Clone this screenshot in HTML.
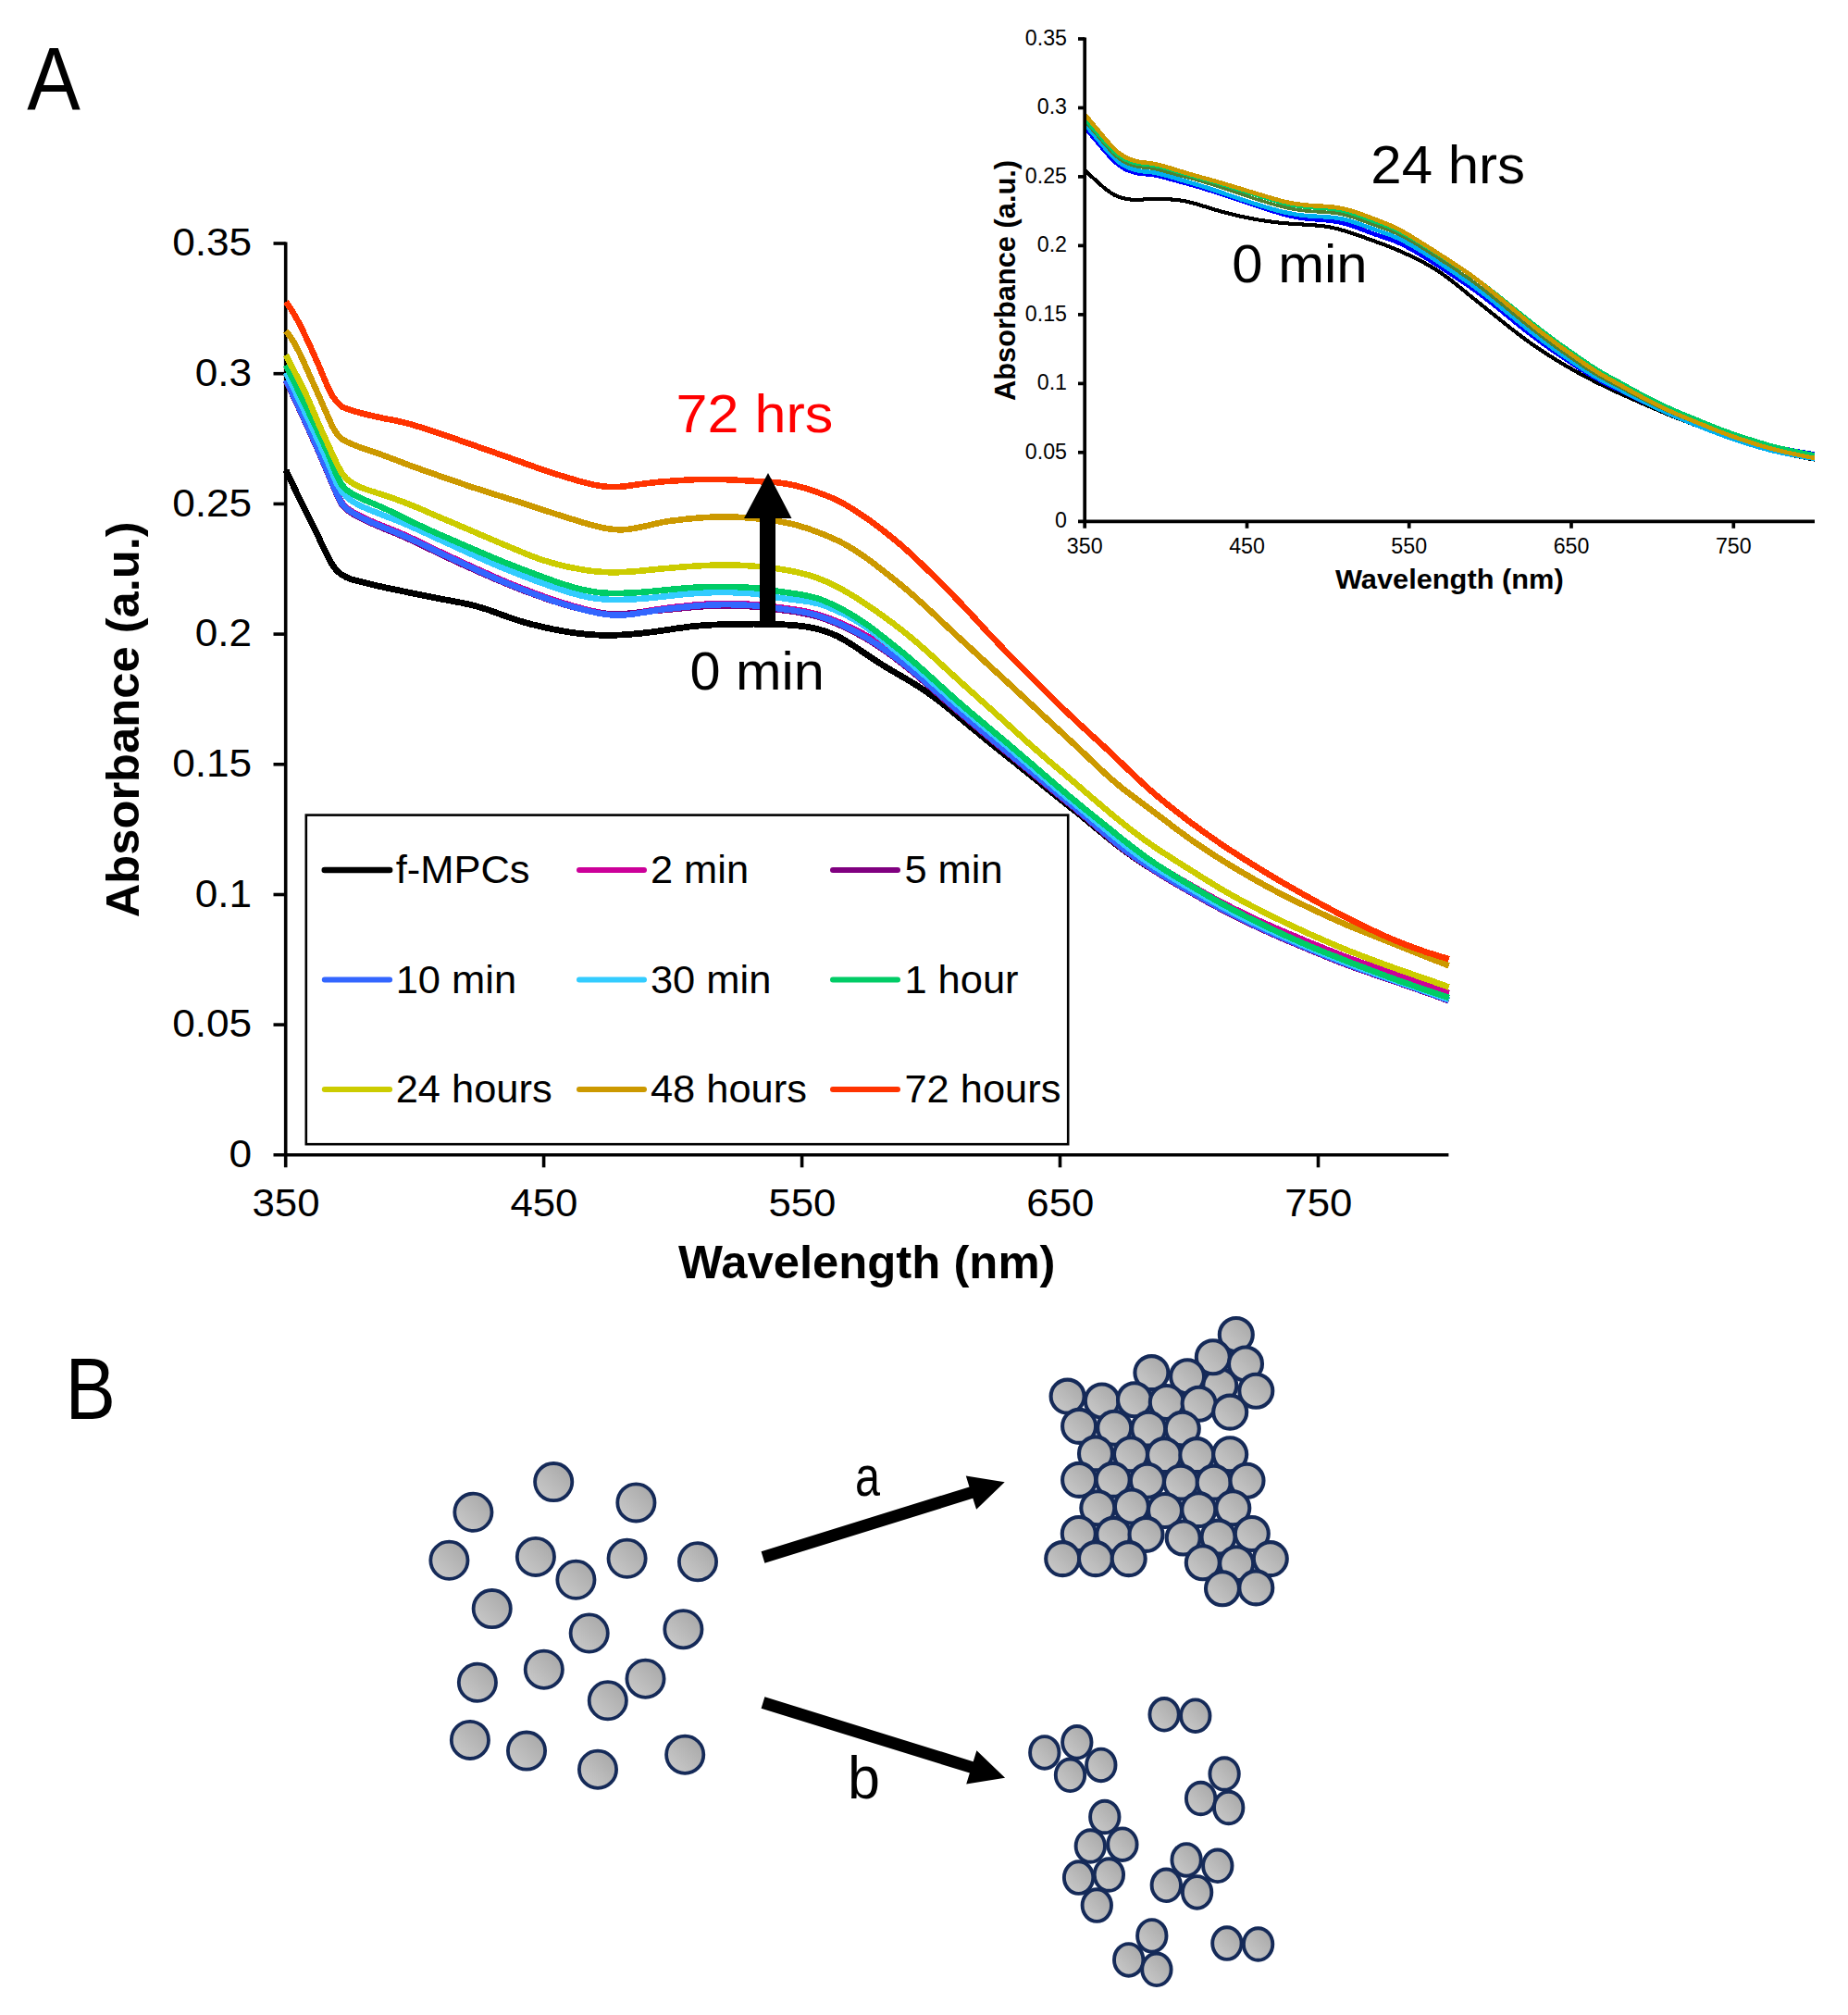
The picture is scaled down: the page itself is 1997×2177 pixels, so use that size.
<!DOCTYPE html>
<html lang="en"><head><meta charset="utf-8"><title>Figure: UV-vis absorbance of f-MPCs over time</title>
<style>html,body{margin:0;padding:0;background:#fff}svg{display:block}text{font-family:"Liberation Sans", sans-serif;}</style>
</head><body>
<svg width="1997" height="2177" viewBox="0 0 1997 2177" role="img" aria-label="UV-vis absorbance spectra and aggregation scheme">
<defs><linearGradient id="g" x1="0.9" y1="0.1" x2="0.1" y2="0.9"><stop offset="0" stop-color="#a8a8a8"/><stop offset="1" stop-color="#c9c9c9"/></linearGradient></defs>
<rect width="1997" height="2177" fill="#ffffff"/>
<text x="29.2" y="118" font-size="96" textLength="57.6" lengthAdjust="spacingAndGlyphs">A</text>
<text x="70.5" y="1533.3" font-size="94.5" textLength="54.5" lengthAdjust="spacingAndGlyphs">B</text>
<g stroke="#000" stroke-width="3.6" fill="none">
<path d="M308.7 261.4 V1261.3"/>
<path d="M295.5 1247.8 H1565.4"/>
<path d="M295.5 263.0 H308.7"/>
<path d="M295.5 403.7 H308.7"/>
<path d="M295.5 544.4 H308.7"/>
<path d="M295.5 685.1 H308.7"/>
<path d="M295.5 825.8 H308.7"/>
<path d="M295.5 966.5 H308.7"/>
<path d="M295.5 1107.1 H308.7"/>
<path d="M587.6 1247.8 V1261.3"/>
<path d="M866.6 1247.8 V1261.3"/>
<path d="M1145.5 1247.8 V1261.3"/>
<path d="M1424.5 1247.8 V1261.3"/>
</g>
<g id="main-curves" fill="none" stroke-width="6.6" stroke-linejoin="round" stroke-linecap="butt" shape-rendering="crispEdges">
<path d="M309.0 508.0 L314.0 518.6 L319.0 529.0 L324.0 539.3 L329.0 549.4 L334.0 559.6 L339.0 569.8 L344.1 580.0 L349.1 590.6 L354.1 600.9 L359.1 610.1 L364.1 616.6 L369.1 620.8 L374.1 623.6 L379.1 625.7 L384.1 627.1 L389.1 628.4 L394.1 629.6 L399.1 630.9 L404.1 632.0 L409.1 633.2 L414.2 634.3 L419.2 635.4 L424.2 636.4 L429.2 637.5 L434.2 638.5 L439.2 639.6 L444.2 640.6 L449.2 641.6 L454.2 642.6 L459.2 643.6 L464.2 644.6 L469.2 645.6 L474.2 646.6 L479.2 647.6 L484.3 648.5 L489.3 649.5 L494.3 650.4 L499.3 651.4 L504.3 652.5 L509.3 653.6 L514.3 654.9 L519.3 656.3 L524.3 657.8 L529.3 659.5 L534.3 661.3 L539.3 663.1 L544.3 664.9 L549.3 666.7 L554.4 668.5 L559.4 670.1 L564.4 671.7 L569.4 673.2 L574.4 674.5 L579.4 675.7 L584.4 676.9 L589.4 678.1 L594.4 679.1 L599.4 680.2 L604.4 681.1 L609.4 682.0 L614.4 682.9 L619.4 683.6 L624.5 684.3 L629.5 684.8 L634.5 685.3 L639.5 685.7 L644.5 686.0 L649.5 686.2 L654.5 686.3 L659.5 686.3 L664.5 686.2 L669.5 686.0 L674.5 685.8 L679.5 685.4 L684.5 685.0 L689.5 684.5 L694.6 684.0 L699.6 683.4 L704.6 682.8 L709.6 682.2 L714.6 681.5 L719.6 680.7 L724.6 680.0 L729.6 679.2 L734.6 678.5 L739.6 677.8 L744.6 677.1 L749.6 676.6 L754.6 676.1 L759.6 675.7 L764.7 675.3 L769.7 675.1 L774.7 674.9 L779.7 674.7 L784.7 674.6 L789.7 674.5 L794.7 674.4 L799.7 674.3 L804.7 674.2 L809.7 674.2 L814.7 674.1 L819.7 674.2 L824.7 674.2 L829.7 674.3 L834.8 674.5 L839.8 674.6 L844.8 674.8 L849.8 675.0 L854.8 675.3 L859.8 675.7 L864.8 676.3 L869.8 676.9 L874.8 677.7 L879.8 678.7 L884.8 680.0 L889.8 681.5 L894.8 683.1 L899.8 685.1 L904.9 687.4 L909.9 690.0 L914.9 692.9 L919.9 696.0 L924.9 699.3 L929.9 702.7 L934.9 706.1 L939.9 709.5 L944.9 712.8 L949.9 716.1 L954.9 719.2 L959.9 722.2 L964.9 725.2 L969.9 728.1 L975.0 731.1 L980.0 734.0 L985.0 737.0 L990.0 740.1 L995.0 743.3 L1000.0 746.7 L1005.0 750.1 L1010.0 753.7 L1015.0 757.5 L1020.0 761.4 L1025.0 765.4 L1030.0 769.5 L1035.0 773.7 L1040.0 777.9 L1045.1 782.1 L1050.1 786.3 L1055.1 790.4 L1060.1 794.5 L1065.1 798.6 L1070.1 802.7 L1075.1 806.7 L1080.1 810.7 L1085.1 814.7 L1090.1 818.7 L1095.1 822.6 L1100.1 826.6 L1105.1 830.7 L1110.1 834.7 L1115.2 838.7 L1120.2 842.8 L1125.2 846.9 L1130.2 850.9 L1135.2 855.0 L1140.2 859.0 L1145.2 863.0 L1150.2 867.0 L1155.2 870.9 L1160.2 874.9 L1165.2 878.9 L1170.2 882.9 L1175.2 887.0 L1180.2 891.2 L1185.3 895.4 L1190.3 899.5 L1195.3 903.7 L1200.3 907.7 L1205.3 911.7 L1210.3 915.5 L1215.3 919.3 L1220.3 922.9 L1225.3 926.3 L1230.3 929.7 L1235.3 933.0 L1240.3 936.3 L1245.3 939.5 L1250.3 942.6 L1255.4 945.7 L1260.4 948.8 L1265.4 951.8 L1270.4 954.7 L1275.4 957.6 L1280.4 960.5 L1285.4 963.3 L1290.4 966.2 L1295.4 969.0 L1300.4 971.8 L1305.4 974.6 L1310.4 977.3 L1315.4 980.0 L1320.4 982.7 L1325.5 985.3 L1330.5 987.9 L1335.5 990.4 L1340.5 992.9 L1345.5 995.3 L1350.5 997.7 L1355.5 1000.1 L1360.5 1002.4 L1365.5 1004.7 L1370.5 1007.0 L1375.5 1009.2 L1380.5 1011.4 L1385.5 1013.6 L1390.5 1015.7 L1395.6 1017.8 L1400.6 1019.9 L1405.6 1022.0 L1410.6 1024.1 L1415.6 1026.1 L1420.6 1028.2 L1425.6 1030.3 L1430.6 1032.3 L1435.6 1034.4 L1440.6 1036.4 L1445.6 1038.4 L1450.6 1040.3 L1455.6 1042.2 L1460.6 1044.1 L1465.7 1046.0 L1470.7 1047.7 L1475.7 1049.5 L1480.7 1051.3 L1485.7 1053.0 L1490.7 1054.7 L1495.7 1056.4 L1500.7 1058.1 L1505.7 1059.8 L1510.7 1061.6 L1515.7 1063.3 L1520.7 1065.0 L1525.7 1066.8 L1530.7 1068.5 L1535.8 1070.3 L1540.8 1072.0 L1545.8 1073.8 L1550.8 1075.6 L1555.8 1077.4 L1560.8 1079.3 L1565.8 1081.1" stroke="#000000" stroke-width="6.8"/>
<path d="M309.0 410.8 L314.0 421.1 L319.0 431.6 L324.0 442.2 L329.0 452.9 L334.0 463.9 L339.0 474.9 L344.1 486.1 L349.1 497.6 L354.1 509.4 L359.1 521.3 L364.1 532.9 L369.1 542.6 L374.1 548.4 L379.1 551.9 L384.1 554.8 L389.1 557.4 L394.1 559.9 L399.1 562.1 L404.1 564.3 L409.1 566.4 L414.2 568.5 L419.2 570.5 L424.2 572.5 L429.2 574.5 L434.2 576.6 L439.2 578.9 L444.2 581.1 L449.2 583.4 L454.2 585.8 L459.2 588.3 L464.2 590.7 L469.2 593.2 L474.2 595.6 L479.2 597.9 L484.3 600.3 L489.3 602.6 L494.3 604.9 L499.3 607.2 L504.3 609.6 L509.3 611.9 L514.3 614.2 L519.3 616.4 L524.3 618.7 L529.3 620.9 L534.3 623.2 L539.3 625.3 L544.3 627.5 L549.3 629.6 L554.4 631.7 L559.4 633.7 L564.4 635.7 L569.4 637.6 L574.4 639.6 L579.4 641.4 L584.4 643.2 L589.4 645.0 L594.4 646.8 L599.4 648.5 L604.4 650.1 L609.4 651.7 L614.4 653.2 L619.4 654.7 L624.5 656.1 L629.5 657.4 L634.5 658.7 L639.5 660.0 L644.5 661.1 L649.5 662.0 L654.5 662.8 L659.5 663.4 L664.5 663.7 L669.5 663.8 L674.5 663.6 L679.5 663.1 L684.5 662.5 L689.5 661.7 L694.6 660.9 L699.6 660.1 L704.6 659.2 L709.6 658.5 L714.6 657.7 L719.6 657.1 L724.6 656.4 L729.6 655.8 L734.6 655.3 L739.6 654.7 L744.6 654.2 L749.6 653.7 L754.6 653.3 L759.6 652.9 L764.7 652.6 L769.7 652.3 L774.7 652.2 L779.7 652.0 L784.7 652.0 L789.7 652.0 L794.7 652.1 L799.7 652.3 L804.7 652.5 L809.7 652.8 L814.7 653.2 L819.7 653.6 L824.7 654.2 L829.7 654.7 L834.8 655.3 L839.8 656.0 L844.8 656.6 L849.8 657.3 L854.8 658.0 L859.8 658.7 L864.8 659.5 L869.8 660.5 L874.8 661.6 L879.8 662.8 L884.8 664.2 L889.8 665.8 L894.8 667.6 L899.8 669.5 L904.9 671.5 L909.9 673.7 L914.9 676.0 L919.9 678.3 L924.9 680.7 L929.9 683.3 L934.9 686.0 L939.9 688.9 L944.9 691.9 L949.9 695.0 L954.9 698.3 L959.9 701.7 L964.9 705.2 L969.9 708.8 L975.0 712.6 L980.0 716.5 L985.0 720.4 L990.0 724.5 L995.0 728.6 L1000.0 732.8 L1005.0 737.1 L1010.0 741.4 L1015.0 745.7 L1020.0 750.0 L1025.0 754.3 L1030.0 758.5 L1035.0 762.7 L1040.0 766.9 L1045.1 771.1 L1050.1 775.3 L1055.1 779.4 L1060.1 783.6 L1065.1 787.7 L1070.1 791.8 L1075.1 795.9 L1080.1 799.9 L1085.1 804.0 L1090.1 808.0 L1095.1 812.0 L1100.1 816.0 L1105.1 820.1 L1110.1 824.1 L1115.2 828.2 L1120.2 832.3 L1125.2 836.4 L1130.2 840.5 L1135.2 844.6 L1140.2 848.6 L1145.2 852.7 L1150.2 856.7 L1155.2 860.7 L1160.2 864.7 L1165.2 868.8 L1170.2 872.9 L1175.2 877.2 L1180.2 881.4 L1185.3 885.7 L1190.3 890.0 L1195.3 894.3 L1200.3 898.4 L1205.3 902.5 L1210.3 906.5 L1215.3 910.4 L1220.3 914.1 L1225.3 917.7 L1230.3 921.2 L1235.3 924.6 L1240.3 928.0 L1245.3 931.2 L1250.3 934.5 L1255.4 937.6 L1260.4 940.7 L1265.4 943.7 L1270.4 946.7 L1275.4 949.7 L1280.4 952.6 L1285.4 955.5 L1290.4 958.3 L1295.4 961.2 L1300.4 964.0 L1305.4 966.8 L1310.4 969.6 L1315.4 972.3 L1320.4 975.0 L1325.5 977.6 L1330.5 980.2 L1335.5 982.7 L1340.5 985.2 L1345.5 987.6 L1350.5 990.0 L1355.5 992.4 L1360.5 994.7 L1365.5 997.0 L1370.5 999.2 L1375.5 1001.4 L1380.5 1003.6 L1385.5 1005.8 L1390.5 1007.9 L1395.6 1010.0 L1400.6 1012.1 L1405.6 1014.2 L1410.6 1016.3 L1415.6 1018.3 L1420.6 1020.4 L1425.6 1022.4 L1430.6 1024.5 L1435.6 1026.5 L1440.6 1028.5 L1445.6 1030.5 L1450.6 1032.4 L1455.6 1034.3 L1460.6 1036.2 L1465.7 1038.0 L1470.7 1039.8 L1475.7 1041.5 L1480.7 1043.3 L1485.7 1045.0 L1490.7 1046.7 L1495.7 1048.4 L1500.7 1050.1 L1505.7 1051.8 L1510.7 1053.5 L1515.7 1055.3 L1520.7 1057.0 L1525.7 1058.7 L1530.7 1060.5 L1535.8 1062.2 L1540.8 1064.0 L1545.8 1065.8 L1550.8 1067.6 L1555.8 1069.4 L1560.8 1071.2 L1565.8 1073.0" stroke="#CC0099"/>
<path d="M309.0 411.5 L314.0 421.9 L319.0 432.5 L324.0 443.2 L329.0 454.1 L334.0 465.1 L339.0 476.3 L344.1 487.6 L349.1 499.2 L354.1 511.1 L359.1 523.1 L364.1 534.8 L369.1 544.6 L374.1 550.4 L379.1 553.9 L384.1 556.9 L389.1 559.6 L394.1 562.1 L399.1 564.3 L404.1 566.6 L409.1 568.7 L414.2 570.8 L419.2 572.9 L424.2 574.9 L429.2 576.9 L434.2 579.1 L439.2 581.3 L444.2 583.6 L449.2 585.9 L454.2 588.3 L459.2 590.7 L464.2 593.2 L469.2 595.6 L474.2 598.0 L479.2 600.4 L484.3 602.8 L489.3 605.1 L494.3 607.4 L499.3 609.7 L504.3 611.9 L509.3 614.2 L514.3 616.5 L519.3 618.7 L524.3 620.9 L529.3 623.1 L534.3 625.3 L539.3 627.4 L544.3 629.5 L549.3 631.6 L554.4 633.6 L559.4 635.6 L564.4 637.6 L569.4 639.5 L574.4 641.3 L579.4 643.2 L584.4 644.9 L589.4 646.7 L594.4 648.4 L599.4 650.0 L604.4 651.6 L609.4 653.1 L614.4 654.6 L619.4 656.0 L624.5 657.3 L629.5 658.5 L634.5 659.7 L639.5 660.7 L644.5 661.6 L649.5 662.3 L654.5 662.8 L659.5 663.2 L664.5 663.4 L669.5 663.3 L674.5 663.1 L679.5 662.7 L684.5 662.3 L689.5 661.7 L694.6 661.2 L699.6 660.7 L704.6 660.2 L709.6 659.8 L714.6 659.3 L719.6 658.9 L724.6 658.4 L729.6 658.0 L734.6 657.5 L739.6 656.9 L744.6 656.4 L749.6 656.0 L754.6 655.5 L759.6 655.2 L764.7 654.9 L769.7 654.6 L774.7 654.5 L779.7 654.4 L784.7 654.4 L789.7 654.4 L794.7 654.6 L799.7 654.7 L804.7 654.9 L809.7 655.2 L814.7 655.6 L819.7 656.1 L824.7 656.6 L829.7 657.2 L834.8 657.8 L839.8 658.4 L844.8 659.1 L849.8 659.7 L854.8 660.4 L859.8 661.2 L864.8 662.0 L869.8 663.0 L874.8 664.0 L879.8 665.3 L884.8 666.7 L889.8 668.3 L894.8 670.1 L899.8 672.1 L904.9 674.2 L909.9 676.5 L914.9 678.8 L919.9 681.3 L924.9 683.9 L929.9 686.6 L934.9 689.4 L939.9 692.4 L944.9 695.6 L949.9 698.9 L954.9 702.2 L959.9 705.7 L964.9 709.4 L969.9 713.2 L975.0 717.1 L980.0 721.1 L985.0 725.2 L990.0 729.3 L995.0 733.6 L1000.0 737.9 L1005.0 742.3 L1010.0 746.7 L1015.0 751.1 L1020.0 755.6 L1025.0 759.9 L1030.0 764.3 L1035.0 768.5 L1040.0 772.8 L1045.1 777.1 L1050.1 781.4 L1055.1 785.6 L1060.1 789.9 L1065.1 794.1 L1070.1 798.3 L1075.1 802.4 L1080.1 806.6 L1085.1 810.7 L1090.1 814.9 L1095.1 819.0 L1100.1 823.1 L1105.1 827.2 L1110.1 831.3 L1115.2 835.5 L1120.2 839.7 L1125.2 843.8 L1130.2 848.0 L1135.2 852.1 L1140.2 856.3 L1145.2 860.4 L1150.2 864.5 L1155.2 868.5 L1160.2 872.6 L1165.2 876.8 L1170.2 881.0 L1175.2 885.3 L1180.2 889.7 L1185.3 894.0 L1190.3 898.4 L1195.3 902.7 L1200.3 906.9 L1205.3 911.0 L1210.3 915.0 L1215.3 918.8 L1220.3 922.5 L1225.3 926.1 L1230.3 929.5 L1235.3 932.9 L1240.3 936.2 L1245.3 939.5 L1250.3 942.6 L1255.4 945.8 L1260.4 948.8 L1265.4 951.8 L1270.4 954.8 L1275.4 957.7 L1280.4 960.6 L1285.4 963.5 L1290.4 966.3 L1295.4 969.1 L1300.4 972.0 L1305.4 974.8 L1310.4 977.5 L1315.4 980.2 L1320.4 982.9 L1325.5 985.5 L1330.5 988.1 L1335.5 990.7 L1340.5 993.1 L1345.5 995.6 L1350.5 998.0 L1355.5 1000.3 L1360.5 1002.7 L1365.5 1004.9 L1370.5 1007.2 L1375.5 1009.4 L1380.5 1011.6 L1385.5 1013.8 L1390.5 1016.0 L1395.6 1018.1 L1400.6 1020.2 L1405.6 1022.3 L1410.6 1024.3 L1415.6 1026.4 L1420.6 1028.5 L1425.6 1030.5 L1430.6 1032.6 L1435.6 1034.6 L1440.6 1036.6 L1445.6 1038.6 L1450.6 1040.6 L1455.6 1042.5 L1460.6 1044.3 L1465.7 1046.2 L1470.7 1047.9 L1475.7 1049.7 L1480.7 1051.4 L1485.7 1053.2 L1490.7 1054.9 L1495.7 1056.6 L1500.7 1058.3 L1505.7 1060.0 L1510.7 1061.7 L1515.7 1063.5 L1520.7 1065.2 L1525.7 1067.0 L1530.7 1068.7 L1535.8 1070.5 L1540.8 1072.3 L1545.8 1074.0 L1550.8 1075.8 L1555.8 1077.6 L1560.8 1079.5 L1565.8 1081.3" stroke="#800080"/>
<path d="M309.0 410.5 L314.0 420.9 L319.0 431.5 L324.0 442.2 L329.0 453.1 L334.0 464.1 L339.0 475.2 L344.1 486.6 L349.1 498.2 L354.1 510.0 L359.1 522.1 L364.1 533.7 L369.1 543.5 L374.1 549.3 L379.1 552.8 L384.1 555.8 L389.1 558.5 L394.1 561.0 L399.1 563.3 L404.1 565.5 L409.1 567.6 L414.2 569.7 L419.2 571.8 L424.2 573.8 L429.2 575.8 L434.2 577.9 L439.2 580.1 L444.2 582.4 L449.2 584.7 L454.2 587.1 L459.2 589.5 L464.2 592.0 L469.2 594.4 L474.2 596.8 L479.2 599.2 L484.3 601.6 L489.3 603.9 L494.3 606.2 L499.3 608.5 L504.3 610.8 L509.3 613.1 L514.3 615.4 L519.3 617.7 L524.3 619.9 L529.3 622.2 L534.3 624.4 L539.3 626.6 L544.3 628.7 L549.3 630.8 L554.4 632.9 L559.4 634.9 L564.4 636.9 L569.4 638.9 L574.4 640.8 L579.4 642.6 L584.4 644.5 L589.4 646.2 L594.4 648.0 L599.4 649.7 L604.4 651.3 L609.4 652.8 L614.4 654.3 L619.4 655.8 L624.5 657.1 L629.5 658.4 L634.5 659.7 L639.5 660.9 L644.5 662.0 L649.5 662.9 L654.5 663.7 L659.5 664.3 L664.5 664.6 L669.5 664.6 L674.5 664.4 L679.5 664.0 L684.5 663.4 L689.5 662.6 L694.6 661.8 L699.6 661.0 L704.6 660.2 L709.6 659.4 L714.6 658.7 L719.6 658.0 L724.6 657.4 L729.6 656.9 L734.6 656.3 L739.6 655.8 L744.6 655.3 L749.6 654.8 L754.6 654.4 L759.6 654.0 L764.7 653.7 L769.7 653.4 L774.7 653.3 L779.7 653.2 L784.7 653.1 L789.7 653.2 L794.7 653.3 L799.7 653.4 L804.7 653.7 L809.7 654.0 L814.7 654.3 L819.7 654.8 L824.7 655.3 L829.7 655.9 L834.8 656.5 L839.8 657.2 L844.8 657.8 L849.8 658.5 L854.8 659.2 L859.8 660.0 L864.8 660.8 L869.8 661.7 L874.8 662.8 L879.8 664.0 L884.8 665.5 L889.8 667.1 L894.8 668.9 L899.8 670.9 L904.9 673.0 L909.9 675.3 L914.9 677.6 L919.9 680.1 L924.9 682.7 L929.9 685.4 L934.9 688.2 L939.9 691.3 L944.9 694.4 L949.9 697.7 L954.9 701.1 L959.9 704.6 L964.9 708.2 L969.9 712.0 L975.0 715.9 L980.0 719.9 L985.0 724.0 L990.0 728.2 L995.0 732.4 L1000.0 736.8 L1005.0 741.2 L1010.0 745.6 L1015.0 750.0 L1020.0 754.4 L1025.0 758.8 L1030.0 763.1 L1035.0 767.4 L1040.0 771.7 L1045.1 776.0 L1050.1 780.3 L1055.1 784.5 L1060.1 788.8 L1065.1 793.0 L1070.1 797.2 L1075.1 801.4 L1080.1 805.5 L1085.1 809.7 L1090.1 813.8 L1095.1 817.9 L1100.1 822.0 L1105.1 826.1 L1110.1 830.3 L1115.2 834.4 L1120.2 838.6 L1125.2 842.8 L1130.2 846.9 L1135.2 851.1 L1140.2 855.2 L1145.2 859.3 L1150.2 863.4 L1155.2 867.5 L1160.2 871.6 L1165.2 875.8 L1170.2 880.0 L1175.2 884.3 L1180.2 888.7 L1185.3 893.0 L1190.3 897.4 L1195.3 901.7 L1200.3 905.9 L1205.3 910.0 L1210.3 914.0 L1215.3 917.8 L1220.3 921.5 L1225.3 925.1 L1230.3 928.5 L1235.3 931.9 L1240.3 935.3 L1245.3 938.5 L1250.3 941.7 L1255.4 944.8 L1260.4 947.9 L1265.4 950.9 L1270.4 953.8 L1275.4 956.8 L1280.4 959.7 L1285.4 962.5 L1290.4 965.4 L1295.4 968.3 L1300.4 971.1 L1305.4 973.9 L1310.4 976.6 L1315.4 979.4 L1320.4 982.1 L1325.5 984.7 L1330.5 987.3 L1335.5 989.8 L1340.5 992.3 L1345.5 994.7 L1350.5 997.1 L1355.5 999.5 L1360.5 1001.8 L1365.5 1004.1 L1370.5 1006.4 L1375.5 1008.6 L1380.5 1010.8 L1385.5 1013.0 L1390.5 1015.2 L1395.6 1017.3 L1400.6 1019.4 L1405.6 1021.5 L1410.6 1023.6 L1415.6 1025.6 L1420.6 1027.7 L1425.6 1029.8 L1430.6 1031.8 L1435.6 1033.9 L1440.6 1035.9 L1445.6 1037.9 L1450.6 1039.8 L1455.6 1041.7 L1460.6 1043.6 L1465.7 1045.5 L1470.7 1047.2 L1475.7 1049.0 L1480.7 1050.7 L1485.7 1052.5 L1490.7 1054.2 L1495.7 1055.9 L1500.7 1057.6 L1505.7 1059.4 L1510.7 1061.1 L1515.7 1062.8 L1520.7 1064.6 L1525.7 1066.3 L1530.7 1068.1 L1535.8 1069.9 L1540.8 1071.6 L1545.8 1073.4 L1550.8 1075.2 L1555.8 1077.0 L1560.8 1078.9 L1565.8 1080.7" stroke="#3366FF"/>
<path d="M309.0 402.5 L314.0 412.7 L319.0 423.0 L324.0 433.5 L329.0 444.1 L334.0 454.8 L339.0 465.8 L344.1 476.8 L349.1 487.8 L354.1 498.9 L359.1 510.9 L364.1 522.5 L369.1 530.6 L374.1 536.5 L379.1 540.5 L384.1 543.6 L389.1 546.2 L394.1 548.6 L399.1 550.7 L404.1 552.7 L409.1 554.7 L414.2 556.7 L419.2 558.7 L424.2 560.6 L429.2 562.6 L434.2 564.6 L439.2 566.7 L444.2 568.9 L449.2 571.1 L454.2 573.4 L459.2 575.7 L464.2 578.1 L469.2 580.4 L474.2 582.7 L479.2 585.0 L484.3 587.3 L489.3 589.6 L494.3 591.9 L499.3 594.2 L504.3 596.4 L509.3 598.7 L514.3 600.9 L519.3 603.2 L524.3 605.4 L529.3 607.6 L534.3 609.7 L539.3 611.9 L544.3 613.9 L549.3 616.0 L554.4 618.0 L559.4 620.0 L564.4 622.0 L569.4 623.9 L574.4 625.8 L579.4 627.7 L584.4 629.5 L589.4 631.3 L594.4 633.1 L599.4 634.9 L604.4 636.6 L609.4 638.2 L614.4 639.8 L619.4 641.3 L624.5 642.6 L629.5 643.9 L634.5 645.0 L639.5 645.9 L644.5 646.7 L649.5 647.2 L654.5 647.6 L659.5 647.9 L664.5 648.0 L669.5 647.9 L674.5 647.8 L679.5 647.6 L684.5 647.4 L689.5 647.1 L694.6 646.7 L699.6 646.3 L704.6 645.9 L709.6 645.3 L714.6 644.8 L719.6 644.2 L724.6 643.7 L729.6 643.1 L734.6 642.5 L739.6 642.0 L744.6 641.6 L749.6 641.2 L754.6 640.8 L759.6 640.5 L764.7 640.3 L769.7 640.2 L774.7 640.0 L779.7 640.0 L784.7 640.0 L789.7 640.1 L794.7 640.3 L799.7 640.5 L804.7 640.8 L809.7 641.1 L814.7 641.6 L819.7 642.1 L824.7 642.8 L829.7 643.7 L834.8 644.7 L839.8 645.5 L844.8 646.2 L849.8 646.9 L854.8 647.5 L859.8 648.1 L864.8 648.7 L869.8 649.4 L874.8 650.2 L879.8 651.2 L884.8 652.4 L889.8 653.9 L894.8 655.8 L899.8 657.9 L904.9 660.1 L909.9 662.5 L914.9 664.9 L919.9 667.6 L924.9 670.5 L929.9 673.6 L934.9 677.0 L939.9 680.6 L944.9 684.3 L949.9 688.2 L954.9 692.2 L959.9 696.2 L964.9 700.4 L969.9 704.5 L975.0 708.7 L980.0 713.0 L985.0 717.2 L990.0 721.5 L995.0 725.9 L1000.0 730.3 L1005.0 734.8 L1010.0 739.3 L1015.0 743.8 L1020.0 748.2 L1025.0 752.7 L1030.0 757.1 L1035.0 761.4 L1040.0 765.8 L1045.1 770.0 L1050.1 774.2 L1055.1 778.4 L1060.1 782.6 L1065.1 786.8 L1070.1 791.0 L1075.1 795.2 L1080.1 799.4 L1085.1 803.6 L1090.1 807.8 L1095.1 812.1 L1100.1 816.4 L1105.1 820.7 L1110.1 825.0 L1115.2 829.4 L1120.2 833.7 L1125.2 838.0 L1130.2 842.3 L1135.2 846.6 L1140.2 850.8 L1145.2 855.0 L1150.2 859.2 L1155.2 863.3 L1160.2 867.4 L1165.2 871.5 L1170.2 875.7 L1175.2 879.8 L1180.2 884.0 L1185.3 888.2 L1190.3 892.4 L1195.3 896.6 L1200.3 900.8 L1205.3 904.9 L1210.3 908.9 L1215.3 912.9 L1220.3 916.8 L1225.3 920.6 L1230.3 924.3 L1235.3 927.9 L1240.3 931.4 L1245.3 934.8 L1250.3 938.1 L1255.4 941.3 L1260.4 944.4 L1265.4 947.5 L1270.4 950.5 L1275.4 953.5 L1280.4 956.4 L1285.4 959.3 L1290.4 962.3 L1295.4 965.2 L1300.4 968.1 L1305.4 971.0 L1310.4 973.8 L1315.4 976.6 L1320.4 979.4 L1325.5 982.1 L1330.5 984.8 L1335.5 987.4 L1340.5 989.9 L1345.5 992.4 L1350.5 994.9 L1355.5 997.3 L1360.5 999.7 L1365.5 1002.0 L1370.5 1004.4 L1375.5 1006.7 L1380.5 1009.0 L1385.5 1011.2 L1390.5 1013.4 L1395.6 1015.6 L1400.6 1017.8 L1405.6 1020.0 L1410.6 1022.1 L1415.6 1024.2 L1420.6 1026.3 L1425.6 1028.4 L1430.6 1030.5 L1435.6 1032.5 L1440.6 1034.5 L1445.6 1036.5 L1450.6 1038.5 L1455.6 1040.4 L1460.6 1042.3 L1465.7 1044.2 L1470.7 1046.1 L1475.7 1047.9 L1480.7 1049.7 L1485.7 1051.5 L1490.7 1053.3 L1495.7 1055.0 L1500.7 1056.8 L1505.7 1058.6 L1510.7 1060.3 L1515.7 1062.1 L1520.7 1063.8 L1525.7 1065.6 L1530.7 1067.3 L1535.8 1069.1 L1540.8 1070.8 L1545.8 1072.6 L1550.8 1074.4 L1555.8 1076.2 L1560.8 1078.0 L1565.8 1079.8" stroke="#33CCFF"/>
<path d="M309.0 394.5 L314.0 404.7 L319.0 415.0 L324.0 425.3 L329.0 435.7 L334.0 446.1 L339.0 456.7 L344.1 467.4 L349.1 478.1 L354.1 489.0 L359.1 501.6 L364.1 514.2 L369.1 523.5 L374.1 529.0 L379.1 532.5 L384.1 535.4 L389.1 538.0 L394.1 540.2 L399.1 542.3 L404.1 544.4 L409.1 546.5 L414.2 548.8 L419.2 551.1 L424.2 553.5 L429.2 556.0 L434.2 558.4 L439.2 560.8 L444.2 563.3 L449.2 565.7 L454.2 568.0 L459.2 570.4 L464.2 572.7 L469.2 574.9 L474.2 577.1 L479.2 579.3 L484.3 581.5 L489.3 583.7 L494.3 585.9 L499.3 588.0 L504.3 590.2 L509.3 592.4 L514.3 594.5 L519.3 596.7 L524.3 598.8 L529.3 601.0 L534.3 603.1 L539.3 605.1 L544.3 607.2 L549.3 609.2 L554.4 611.1 L559.4 613.1 L564.4 615.0 L569.4 616.9 L574.4 618.8 L579.4 620.7 L584.4 622.6 L589.4 624.4 L594.4 626.2 L599.4 628.0 L604.4 629.7 L609.4 631.3 L614.4 632.9 L619.4 634.4 L624.5 635.8 L629.5 637.0 L634.5 638.1 L639.5 639.0 L644.5 639.8 L649.5 640.3 L654.5 640.7 L659.5 640.9 L664.5 641.0 L669.5 640.9 L674.5 640.8 L679.5 640.6 L684.5 640.4 L689.5 640.1 L694.6 639.7 L699.6 639.3 L704.6 638.9 L709.6 638.4 L714.6 637.9 L719.6 637.4 L724.6 636.9 L729.6 636.4 L734.6 635.9 L739.6 635.5 L744.6 635.1 L749.6 634.8 L754.6 634.5 L759.6 634.2 L764.7 634.1 L769.7 633.9 L774.7 633.8 L779.7 633.8 L784.7 633.8 L789.7 633.9 L794.7 634.1 L799.7 634.3 L804.7 634.5 L809.7 634.9 L814.7 635.2 L819.7 635.7 L824.7 636.3 L829.7 637.1 L834.8 637.9 L839.8 638.7 L844.8 639.4 L849.8 640.1 L854.8 640.8 L859.8 641.5 L864.8 642.3 L869.8 643.2 L874.8 644.3 L879.8 645.6 L884.8 647.0 L889.8 648.8 L894.8 650.9 L899.8 653.2 L904.9 655.7 L909.9 658.3 L914.9 661.0 L919.9 663.9 L924.9 666.9 L929.9 670.2 L934.9 673.6 L939.9 677.1 L944.9 680.8 L949.9 684.7 L954.9 688.5 L959.9 692.5 L964.9 696.5 L969.9 700.5 L975.0 704.6 L980.0 708.8 L985.0 713.0 L990.0 717.4 L995.0 721.8 L1000.0 726.2 L1005.0 730.7 L1010.0 735.3 L1015.0 739.8 L1020.0 744.3 L1025.0 748.8 L1030.0 753.3 L1035.0 757.7 L1040.0 762.1 L1045.1 766.4 L1050.1 770.7 L1055.1 774.9 L1060.1 779.1 L1065.1 783.3 L1070.1 787.5 L1075.1 791.7 L1080.1 795.9 L1085.1 800.1 L1090.1 804.3 L1095.1 808.6 L1100.1 812.8 L1105.1 817.1 L1110.1 821.4 L1115.2 825.7 L1120.2 830.1 L1125.2 834.4 L1130.2 838.7 L1135.2 843.0 L1140.2 847.3 L1145.2 851.5 L1150.2 855.7 L1155.2 859.9 L1160.2 864.0 L1165.2 868.2 L1170.2 872.3 L1175.2 876.3 L1180.2 880.4 L1185.3 884.5 L1190.3 888.5 L1195.3 892.5 L1200.3 896.5 L1205.3 900.6 L1210.3 904.6 L1215.3 908.6 L1220.3 912.5 L1225.3 916.4 L1230.3 920.2 L1235.3 923.9 L1240.3 927.5 L1245.3 931.0 L1250.3 934.4 L1255.4 937.7 L1260.4 940.9 L1265.4 944.0 L1270.4 947.0 L1275.4 950.0 L1280.4 953.0 L1285.4 956.0 L1290.4 959.0 L1295.4 962.0 L1300.4 964.9 L1305.4 967.9 L1310.4 970.7 L1315.4 973.6 L1320.4 976.4 L1325.5 979.2 L1330.5 981.9 L1335.5 984.5 L1340.5 987.1 L1345.5 989.7 L1350.5 992.2 L1355.5 994.7 L1360.5 997.1 L1365.5 999.5 L1370.5 1001.9 L1375.5 1004.3 L1380.5 1006.7 L1385.5 1009.0 L1390.5 1011.3 L1395.6 1013.5 L1400.6 1015.8 L1405.6 1018.0 L1410.6 1020.2 L1415.6 1022.3 L1420.6 1024.4 L1425.6 1026.5 L1430.6 1028.5 L1435.6 1030.6 L1440.6 1032.5 L1445.6 1034.5 L1450.6 1036.5 L1455.6 1038.4 L1460.6 1040.4 L1465.7 1042.3 L1470.7 1044.2 L1475.7 1046.1 L1480.7 1048.0 L1485.7 1049.9 L1490.7 1051.8 L1495.7 1053.6 L1500.7 1055.5 L1505.7 1057.3 L1510.7 1059.1 L1515.7 1060.8 L1520.7 1062.6 L1525.7 1064.4 L1530.7 1066.1 L1535.8 1067.8 L1540.8 1069.5 L1545.8 1071.2 L1550.8 1072.9 L1555.8 1074.6 L1560.8 1076.2 L1565.8 1077.9" stroke="#00CC66"/>
<path d="M309.0 383.5 L314.0 393.2 L319.0 402.9 L324.0 412.7 L329.0 422.6 L334.0 433.3 L339.0 445.3 L344.1 457.4 L349.1 468.6 L354.1 479.3 L359.1 490.5 L364.1 501.3 L369.1 510.5 L374.1 517.0 L379.1 520.9 L384.1 523.9 L389.1 526.2 L394.1 528.2 L399.1 529.9 L404.1 531.5 L409.1 533.2 L414.2 534.8 L419.2 536.5 L424.2 538.2 L429.2 539.9 L434.2 541.7 L439.2 543.7 L444.2 545.7 L449.2 547.7 L454.2 549.8 L459.2 551.9 L464.2 554.1 L469.2 556.3 L474.2 558.4 L479.2 560.6 L484.3 562.7 L489.3 564.8 L494.3 567.0 L499.3 569.1 L504.3 571.2 L509.3 573.4 L514.3 575.5 L519.3 577.7 L524.3 579.8 L529.3 581.9 L534.3 584.0 L539.3 586.2 L544.3 588.3 L549.3 590.4 L554.4 592.5 L559.4 594.6 L564.4 596.7 L569.4 598.8 L574.4 600.8 L579.4 602.6 L584.4 604.4 L589.4 606.0 L594.4 607.5 L599.4 608.9 L604.4 610.2 L609.4 611.4 L614.4 612.6 L619.4 613.6 L624.5 614.5 L629.5 615.4 L634.5 616.2 L639.5 616.9 L644.5 617.4 L649.5 617.8 L654.5 618.1 L659.5 618.3 L664.5 618.3 L669.5 618.2 L674.5 618.0 L679.5 617.7 L684.5 617.4 L689.5 616.9 L694.6 616.5 L699.6 616.0 L704.6 615.5 L709.6 615.0 L714.6 614.5 L719.6 614.1 L724.6 613.7 L729.6 613.2 L734.6 612.8 L739.6 612.4 L744.6 612.0 L749.6 611.7 L754.6 611.4 L759.6 611.1 L764.7 610.9 L769.7 610.7 L774.7 610.6 L779.7 610.5 L784.7 610.5 L789.7 610.5 L794.7 610.7 L799.7 610.8 L804.7 611.0 L809.7 611.3 L814.7 611.7 L819.7 612.1 L824.7 612.5 L829.7 613.1 L834.8 613.6 L839.8 614.3 L844.8 615.1 L849.8 615.9 L854.8 616.8 L859.8 617.8 L864.8 619.0 L869.8 620.3 L874.8 621.7 L879.8 623.3 L884.8 625.1 L889.8 627.1 L894.8 629.2 L899.8 631.6 L904.9 634.1 L909.9 636.8 L914.9 639.7 L919.9 642.6 L924.9 645.7 L929.9 648.9 L934.9 652.2 L939.9 655.5 L944.9 659.0 L949.9 662.5 L954.9 666.1 L959.9 669.7 L964.9 673.4 L969.9 677.2 L975.0 681.2 L980.0 685.2 L985.0 689.3 L990.0 693.5 L995.0 697.8 L1000.0 702.2 L1005.0 706.7 L1010.0 711.2 L1015.0 715.8 L1020.0 720.4 L1025.0 725.0 L1030.0 729.5 L1035.0 734.1 L1040.0 738.6 L1045.1 743.2 L1050.1 747.7 L1055.1 752.2 L1060.1 756.7 L1065.1 761.2 L1070.1 765.6 L1075.1 770.1 L1080.1 774.6 L1085.1 779.1 L1090.1 783.6 L1095.1 788.2 L1100.1 792.7 L1105.1 797.2 L1110.1 801.7 L1115.2 806.1 L1120.2 810.6 L1125.2 815.0 L1130.2 819.3 L1135.2 823.6 L1140.2 827.8 L1145.2 832.0 L1150.2 836.3 L1155.2 840.5 L1160.2 844.7 L1165.2 849.0 L1170.2 853.3 L1175.2 857.6 L1180.2 861.9 L1185.3 866.2 L1190.3 870.5 L1195.3 874.7 L1200.3 878.9 L1205.3 883.0 L1210.3 887.1 L1215.3 891.1 L1220.3 895.0 L1225.3 898.8 L1230.3 902.6 L1235.3 906.3 L1240.3 909.9 L1245.3 913.4 L1250.3 916.8 L1255.4 920.2 L1260.4 923.4 L1265.4 926.7 L1270.4 929.8 L1275.4 933.0 L1280.4 936.2 L1285.4 939.3 L1290.4 942.4 L1295.4 945.6 L1300.4 948.7 L1305.4 951.8 L1310.4 954.9 L1315.4 958.0 L1320.4 961.0 L1325.5 963.9 L1330.5 966.8 L1335.5 969.6 L1340.5 972.3 L1345.5 975.0 L1350.5 977.7 L1355.5 980.3 L1360.5 982.8 L1365.5 985.4 L1370.5 987.9 L1375.5 990.4 L1380.5 992.8 L1385.5 995.3 L1390.5 997.7 L1395.6 1000.0 L1400.6 1002.4 L1405.6 1004.7 L1410.6 1007.0 L1415.6 1009.3 L1420.6 1011.5 L1425.6 1013.7 L1430.6 1015.9 L1435.6 1018.1 L1440.6 1020.2 L1445.6 1022.3 L1450.6 1024.4 L1455.6 1026.5 L1460.6 1028.5 L1465.7 1030.4 L1470.7 1032.4 L1475.7 1034.3 L1480.7 1036.2 L1485.7 1038.1 L1490.7 1039.9 L1495.7 1041.8 L1500.7 1043.6 L1505.7 1045.4 L1510.7 1047.1 L1515.7 1048.9 L1520.7 1050.6 L1525.7 1052.4 L1530.7 1054.1 L1535.8 1055.8 L1540.8 1057.6 L1545.8 1059.3 L1550.8 1061.1 L1555.8 1062.9 L1560.8 1064.7 L1565.8 1066.5" stroke="#CCCC00"/>
<path d="M309.0 357.5 L314.0 364.2 L319.0 372.3 L324.0 381.9 L329.0 392.9 L334.0 404.0 L339.0 415.2 L344.1 426.6 L349.1 438.0 L354.1 449.3 L359.1 460.7 L364.1 468.8 L369.1 474.0 L374.1 477.1 L379.1 479.3 L384.1 481.4 L389.1 483.3 L394.1 485.0 L399.1 486.7 L404.1 488.3 L409.1 490.1 L414.2 491.9 L419.2 493.8 L424.2 495.7 L429.2 497.6 L434.2 499.5 L439.2 501.4 L444.2 503.3 L449.2 505.1 L454.2 506.9 L459.2 508.7 L464.2 510.4 L469.2 512.2 L474.2 513.9 L479.2 515.7 L484.3 517.4 L489.3 519.1 L494.3 520.9 L499.3 522.6 L504.3 524.3 L509.3 526.0 L514.3 527.6 L519.3 529.2 L524.3 530.8 L529.3 532.4 L534.3 534.0 L539.3 535.6 L544.3 537.1 L549.3 538.7 L554.4 540.3 L559.4 541.9 L564.4 543.5 L569.4 545.2 L574.4 546.8 L579.4 548.4 L584.4 550.1 L589.4 551.7 L594.4 553.3 L599.4 555.0 L604.4 556.6 L609.4 558.2 L614.4 559.8 L619.4 561.3 L624.5 562.9 L629.5 564.4 L634.5 565.9 L639.5 567.3 L644.5 568.6 L649.5 569.8 L654.5 570.8 L659.5 571.6 L664.5 572.1 L669.5 572.3 L674.5 572.2 L679.5 571.8 L684.5 571.0 L689.5 570.1 L694.6 569.0 L699.6 567.9 L704.6 566.7 L709.6 565.6 L714.6 564.5 L719.6 563.6 L724.6 562.8 L729.6 562.2 L734.6 561.6 L739.6 561.0 L744.6 560.5 L749.6 560.0 L754.6 559.6 L759.6 559.2 L764.7 558.9 L769.7 558.7 L774.7 558.5 L779.7 558.4 L784.7 558.5 L789.7 558.5 L794.7 558.7 L799.7 558.9 L804.7 559.2 L809.7 559.6 L814.7 560.0 L819.7 560.5 L824.7 561.0 L829.7 561.6 L834.8 562.2 L839.8 562.9 L844.8 563.8 L849.8 564.8 L854.8 565.9 L859.8 567.1 L864.8 568.5 L869.8 570.1 L874.8 571.7 L879.8 573.5 L884.8 575.4 L889.8 577.3 L894.8 579.4 L899.8 581.6 L904.9 583.9 L909.9 586.4 L914.9 589.1 L919.9 592.1 L924.9 595.2 L929.9 598.5 L934.9 602.0 L939.9 605.6 L944.9 609.4 L949.9 613.2 L954.9 617.1 L959.9 621.0 L964.9 625.0 L969.9 629.0 L975.0 633.1 L980.0 637.3 L985.0 641.6 L990.0 646.0 L995.0 650.5 L1000.0 655.0 L1005.0 659.6 L1010.0 664.3 L1015.0 669.0 L1020.0 673.7 L1025.0 678.4 L1030.0 683.0 L1035.0 687.7 L1040.0 692.4 L1045.1 697.0 L1050.1 701.6 L1055.1 706.3 L1060.1 710.9 L1065.1 715.5 L1070.1 720.1 L1075.1 724.7 L1080.1 729.3 L1085.1 733.9 L1090.1 738.5 L1095.1 743.1 L1100.1 747.8 L1105.1 752.4 L1110.1 757.1 L1115.2 761.7 L1120.2 766.4 L1125.2 771.1 L1130.2 775.7 L1135.2 780.4 L1140.2 785.0 L1145.2 789.6 L1150.2 794.2 L1155.2 798.9 L1160.2 803.5 L1165.2 808.2 L1170.2 812.9 L1175.2 817.7 L1180.2 822.5 L1185.3 827.3 L1190.3 832.0 L1195.3 836.6 L1200.3 841.1 L1205.3 845.4 L1210.3 849.6 L1215.3 853.6 L1220.3 857.4 L1225.3 861.2 L1230.3 864.9 L1235.3 868.6 L1240.3 872.3 L1245.3 876.0 L1250.3 879.8 L1255.4 883.6 L1260.4 887.5 L1265.4 891.3 L1270.4 895.1 L1275.4 898.8 L1280.4 902.5 L1285.4 906.1 L1290.4 909.6 L1295.4 913.0 L1300.4 916.4 L1305.4 919.7 L1310.4 922.9 L1315.4 926.1 L1320.4 929.3 L1325.5 932.4 L1330.5 935.5 L1335.5 938.5 L1340.5 941.5 L1345.5 944.4 L1350.5 947.3 L1355.5 950.2 L1360.5 953.0 L1365.5 955.8 L1370.5 958.5 L1375.5 961.2 L1380.5 963.9 L1385.5 966.4 L1390.5 969.0 L1395.6 971.5 L1400.6 973.9 L1405.6 976.4 L1410.6 978.8 L1415.6 981.2 L1420.6 983.5 L1425.6 985.9 L1430.6 988.2 L1435.6 990.5 L1440.6 992.8 L1445.6 995.0 L1450.6 997.2 L1455.6 999.4 L1460.6 1001.5 L1465.7 1003.6 L1470.7 1005.6 L1475.7 1007.6 L1480.7 1009.6 L1485.7 1011.6 L1490.7 1013.6 L1495.7 1015.5 L1500.7 1017.5 L1505.7 1019.5 L1510.7 1021.5 L1515.7 1023.5 L1520.7 1025.5 L1525.7 1027.5 L1530.7 1029.5 L1535.8 1031.5 L1540.8 1033.5 L1545.8 1035.5 L1550.8 1037.5 L1555.8 1039.4 L1560.8 1041.4 L1565.8 1043.3" stroke="#CC9900"/>
<path d="M309.0 326.0 L314.0 333.2 L319.0 341.4 L324.0 350.6 L329.0 360.9 L334.0 371.5 L339.0 382.6 L344.1 394.1 L349.1 406.0 L354.1 417.8 L359.1 427.5 L364.1 434.4 L369.1 439.2 L374.1 441.5 L379.1 443.1 L384.1 444.6 L389.1 446.0 L394.1 447.3 L399.1 448.5 L404.1 449.7 L409.1 450.8 L414.2 451.9 L419.2 452.9 L424.2 453.8 L429.2 454.8 L434.2 456.0 L439.2 457.2 L444.2 458.5 L449.2 460.0 L454.2 461.5 L459.2 463.1 L464.2 464.8 L469.2 466.4 L474.2 468.1 L479.2 469.8 L484.3 471.5 L489.3 473.2 L494.3 474.9 L499.3 476.7 L504.3 478.4 L509.3 480.2 L514.3 481.9 L519.3 483.7 L524.3 485.4 L529.3 487.2 L534.3 488.9 L539.3 490.7 L544.3 492.4 L549.3 494.2 L554.4 496.0 L559.4 497.8 L564.4 499.6 L569.4 501.4 L574.4 503.2 L579.4 505.0 L584.4 506.7 L589.4 508.4 L594.4 510.1 L599.4 511.7 L604.4 513.3 L609.4 514.9 L614.4 516.4 L619.4 517.9 L624.5 519.4 L629.5 520.8 L634.5 522.1 L639.5 523.3 L644.5 524.3 L649.5 525.1 L654.5 525.7 L659.5 526.1 L664.5 526.2 L669.5 525.9 L674.5 525.5 L679.5 524.8 L684.5 524.1 L689.5 523.4 L694.6 522.7 L699.6 522.1 L704.6 521.5 L709.6 521.0 L714.6 520.5 L719.6 520.1 L724.6 519.8 L729.6 519.5 L734.6 519.1 L739.6 518.8 L744.6 518.5 L749.6 518.2 L754.6 518.0 L759.6 518.0 L764.7 517.9 L769.7 517.9 L774.7 518.0 L779.7 518.1 L784.7 518.2 L789.7 518.4 L794.7 518.7 L799.7 519.0 L804.7 519.2 L809.7 519.5 L814.7 519.8 L819.7 520.1 L824.7 520.3 L829.7 520.5 L834.8 520.9 L839.8 521.3 L844.8 521.9 L849.8 522.7 L854.8 523.6 L859.8 524.7 L864.8 526.0 L869.8 527.4 L874.8 529.0 L879.8 530.6 L884.8 532.4 L889.8 534.3 L894.8 536.2 L899.8 538.3 L904.9 540.7 L909.9 543.3 L914.9 546.0 L919.9 549.0 L924.9 552.2 L929.9 555.5 L934.9 558.9 L939.9 562.4 L944.9 566.1 L949.9 569.8 L954.9 573.6 L959.9 577.6 L964.9 581.6 L969.9 585.7 L975.0 590.1 L980.0 594.5 L985.0 599.1 L990.0 603.8 L995.0 608.6 L1000.0 613.4 L1005.0 618.3 L1010.0 623.2 L1015.0 628.1 L1020.0 633.1 L1025.0 638.2 L1030.0 643.3 L1035.0 648.4 L1040.0 653.7 L1045.1 659.0 L1050.1 664.4 L1055.1 669.8 L1060.1 675.3 L1065.1 680.7 L1070.1 686.0 L1075.1 691.3 L1080.1 696.6 L1085.1 701.8 L1090.1 707.0 L1095.1 712.2 L1100.1 717.3 L1105.1 722.4 L1110.1 727.4 L1115.2 732.4 L1120.2 737.4 L1125.2 742.4 L1130.2 747.4 L1135.2 752.3 L1140.2 757.2 L1145.2 762.1 L1150.2 766.9 L1155.2 771.6 L1160.2 776.4 L1165.2 781.0 L1170.2 785.7 L1175.2 790.3 L1180.2 794.9 L1185.3 799.5 L1190.3 804.1 L1195.3 808.7 L1200.3 813.4 L1205.3 818.2 L1210.3 823.0 L1215.3 827.8 L1220.3 832.6 L1225.3 837.3 L1230.3 842.0 L1235.3 846.7 L1240.3 851.2 L1245.3 855.6 L1250.3 859.9 L1255.4 864.1 L1260.4 868.2 L1265.4 872.2 L1270.4 876.1 L1275.4 880.0 L1280.4 883.8 L1285.4 887.6 L1290.4 891.3 L1295.4 895.0 L1300.4 898.6 L1305.4 902.1 L1310.4 905.6 L1315.4 909.1 L1320.4 912.5 L1325.5 915.9 L1330.5 919.2 L1335.5 922.4 L1340.5 925.7 L1345.5 928.9 L1350.5 932.0 L1355.5 935.1 L1360.5 938.2 L1365.5 941.3 L1370.5 944.3 L1375.5 947.3 L1380.5 950.3 L1385.5 953.2 L1390.5 956.1 L1395.6 959.0 L1400.6 961.9 L1405.6 964.7 L1410.6 967.5 L1415.6 970.3 L1420.6 973.1 L1425.6 975.8 L1430.6 978.5 L1435.6 981.2 L1440.6 983.8 L1445.6 986.4 L1450.6 989.0 L1455.6 991.6 L1460.6 994.1 L1465.7 996.6 L1470.7 999.1 L1475.7 1001.6 L1480.7 1004.0 L1485.7 1006.3 L1490.7 1008.6 L1495.7 1010.9 L1500.7 1013.1 L1505.7 1015.2 L1510.7 1017.3 L1515.7 1019.3 L1520.7 1021.2 L1525.7 1023.1 L1530.7 1025.0 L1535.8 1026.7 L1540.8 1028.5 L1545.8 1030.1 L1550.8 1031.7 L1555.8 1033.2 L1560.8 1034.7 L1565.8 1036.1" stroke="#FF3300"/>
</g>
<g font-size="42.5" text-anchor="end">
<text x="272.2" y="276.3" font-size="42.5" text-anchor="end" textLength="86.0" lengthAdjust="spacingAndGlyphs">0.35</text>
<text x="272.2" y="417.0" font-size="42.5" text-anchor="end" textLength="61.4" lengthAdjust="spacingAndGlyphs">0.3</text>
<text x="272.2" y="557.7" font-size="42.5" text-anchor="end" textLength="86.0" lengthAdjust="spacingAndGlyphs">0.25</text>
<text x="272.2" y="698.4" font-size="42.5" text-anchor="end" textLength="61.4" lengthAdjust="spacingAndGlyphs">0.2</text>
<text x="272.2" y="839.1" font-size="42.5" text-anchor="end" textLength="86.0" lengthAdjust="spacingAndGlyphs">0.15</text>
<text x="272.2" y="979.8" font-size="42.5" text-anchor="end" textLength="61.4" lengthAdjust="spacingAndGlyphs">0.1</text>
<text x="272.2" y="1120.4" font-size="42.5" text-anchor="end" textLength="86.0" lengthAdjust="spacingAndGlyphs">0.05</text>
<text x="272.2" y="1261.1" font-size="42.5" text-anchor="end" textLength="24.6" lengthAdjust="spacingAndGlyphs">0</text>
</g>
<g font-size="42.5" text-anchor="middle">
<text x="309.0" y="1313.6" font-size="42.5" text-anchor="middle" textLength="73.0" lengthAdjust="spacingAndGlyphs">350</text>
<text x="587.9" y="1313.6" font-size="42.5" text-anchor="middle" textLength="73.0" lengthAdjust="spacingAndGlyphs">450</text>
<text x="866.9" y="1313.6" font-size="42.5" text-anchor="middle" textLength="73.0" lengthAdjust="spacingAndGlyphs">550</text>
<text x="1145.8" y="1313.6" font-size="42.5" text-anchor="middle" textLength="73.0" lengthAdjust="spacingAndGlyphs">650</text>
<text x="1424.8" y="1313.6" font-size="42.5" text-anchor="middle" textLength="73.0" lengthAdjust="spacingAndGlyphs">750</text>
</g>
<text x="936.8" y="1380.5" font-size="50" text-anchor="middle" font-weight="bold" textLength="407.4" lengthAdjust="spacingAndGlyphs">Wavelength (nm)</text>
<text x="0.0" y="0.0" font-size="50" text-anchor="middle" font-weight="bold" textLength="428.0" lengthAdjust="spacingAndGlyphs" transform="translate(150 777.3) rotate(-90)">Absorbance (a.u.)</text>
<text x="730.6" y="466.5" font-size="58" fill="#FF0000" textLength="169.7" lengthAdjust="spacingAndGlyphs">72 hrs</text>
<text x="818.2" y="744.6" font-size="57" text-anchor="middle" textLength="145.5" lengthAdjust="spacingAndGlyphs">0 min</text>
<path d="M821 678 V560 H804 L830 511 L855.5 560 H838 V678 Z" fill="#000"/>
<rect x="330.8" y="880.6" width="823.4" height="355.6" fill="#fff" stroke="#000" stroke-width="2.6"/>
<g font-size="42.5" stroke-linecap="round" stroke-width="6">
<path d="M350.8 940.0 H421.1" stroke="#000000" stroke-width="6.6"/>
<text x="427.7" y="954.2" font-size="42.5" textLength="144.8" lengthAdjust="spacingAndGlyphs">f-MPCs</text>
<path d="M626.0 940.0 H696.0" stroke="#CC0099"/>
<text x="702.9" y="954.2" font-size="42.5" textLength="106.2" lengthAdjust="spacingAndGlyphs">2 min</text>
<path d="M900.0 940.0 H970.0" stroke="#800080"/>
<text x="977.4" y="954.2" font-size="42.5" textLength="106.2" lengthAdjust="spacingAndGlyphs">5 min</text>
<path d="M350.8 1058.4 H421.1" stroke="#3366FF"/>
<text x="427.7" y="1072.6" font-size="42.5" textLength="130.4" lengthAdjust="spacingAndGlyphs">10 min</text>
<path d="M626.0 1058.4 H696.0" stroke="#33CCFF"/>
<text x="702.9" y="1072.6" font-size="42.5" textLength="130.4" lengthAdjust="spacingAndGlyphs">30 min</text>
<path d="M900.0 1058.4 H970.0" stroke="#00CC66"/>
<text x="977.4" y="1072.6" font-size="42.5" textLength="123.2" lengthAdjust="spacingAndGlyphs">1 hour</text>
<path d="M350.8 1177.0 H421.1" stroke="#CCCC00"/>
<text x="427.7" y="1191.2" font-size="42.5" textLength="169.0" lengthAdjust="spacingAndGlyphs">24 hours</text>
<path d="M626.0 1177.0 H696.0" stroke="#CC9900"/>
<text x="702.9" y="1191.2" font-size="42.5" textLength="169.0" lengthAdjust="spacingAndGlyphs">48 hours</text>
<path d="M900.0 1177.0 H970.0" stroke="#FF3300"/>
<text x="977.4" y="1191.2" font-size="42.5" textLength="169.0" lengthAdjust="spacingAndGlyphs">72 hours</text>
</g>
<g id="inset-curves" fill="none" stroke-width="4.6" stroke-linejoin="round" shape-rendering="crispEdges">
<path d="M1172.4 184.0 L1176.4 187.8 L1180.4 191.5 L1184.4 195.1 L1188.4 198.7 L1192.4 202.3 L1196.4 205.5 L1200.4 208.3 L1204.4 210.7 L1208.4 212.5 L1212.4 213.8 L1216.4 214.8 L1220.4 215.4 L1224.4 215.8 L1228.4 216.0 L1232.4 215.9 L1236.4 215.4 L1240.4 214.9 L1244.4 214.8 L1248.4 214.7 L1252.5 214.7 L1256.5 214.8 L1260.5 215.1 L1264.5 215.4 L1268.5 215.7 L1272.5 216.1 L1276.5 216.7 L1280.5 217.4 L1284.5 218.2 L1288.5 219.2 L1292.5 220.3 L1296.5 221.5 L1300.5 222.7 L1304.5 223.9 L1308.5 225.2 L1312.5 226.4 L1316.5 227.5 L1320.5 228.7 L1324.5 229.8 L1328.5 230.8 L1332.5 231.8 L1336.5 232.8 L1340.5 233.7 L1344.5 234.6 L1348.5 235.4 L1352.5 236.2 L1356.5 236.9 L1360.5 237.6 L1364.5 238.2 L1368.5 238.8 L1372.5 239.4 L1376.5 239.9 L1380.5 240.4 L1384.5 240.8 L1388.5 241.2 L1392.5 241.5 L1396.5 241.8 L1400.5 242.1 L1404.5 242.3 L1408.5 242.5 L1412.6 242.8 L1416.6 243.1 L1420.6 243.4 L1424.6 243.7 L1428.6 244.2 L1432.6 244.7 L1436.6 245.4 L1440.6 246.2 L1444.6 247.1 L1448.6 248.1 L1452.6 249.3 L1456.6 250.5 L1460.6 251.8 L1464.6 253.2 L1468.6 254.6 L1472.6 256.0 L1476.6 257.4 L1480.6 258.9 L1484.6 260.3 L1488.6 261.8 L1492.6 263.2 L1496.6 264.7 L1500.6 266.2 L1504.6 267.8 L1508.6 269.4 L1512.6 271.2 L1516.6 273.0 L1520.6 274.8 L1524.6 276.7 L1528.6 278.7 L1532.6 280.6 L1536.6 282.7 L1540.6 284.8 L1544.6 287.1 L1548.6 289.4 L1552.6 291.9 L1556.6 294.6 L1560.6 297.4 L1564.6 300.3 L1568.7 303.4 L1572.7 306.6 L1576.7 309.8 L1580.7 313.0 L1584.7 316.2 L1588.7 319.5 L1592.7 322.7 L1596.7 326.0 L1600.7 329.2 L1604.7 332.4 L1608.7 335.6 L1612.7 338.8 L1616.7 342.0 L1620.7 345.2 L1624.7 348.4 L1628.7 351.6 L1632.7 354.7 L1636.7 357.8 L1640.7 360.9 L1644.7 363.9 L1648.7 366.9 L1652.7 369.8 L1656.7 372.6 L1660.7 375.4 L1664.7 378.1 L1668.7 380.7 L1672.7 383.3 L1676.7 385.8 L1680.7 388.3 L1684.7 390.7 L1688.7 393.1 L1692.7 395.5 L1696.7 397.8 L1700.7 400.1 L1704.7 402.3 L1708.7 404.5 L1712.7 406.7 L1716.7 408.8 L1720.7 410.8 L1724.8 412.9 L1728.8 414.9 L1732.8 416.8 L1736.8 418.7 L1740.8 420.6 L1744.8 422.5 L1748.8 424.3 L1752.8 426.1 L1756.8 427.9 L1760.8 429.7 L1764.8 431.5 L1768.8 433.2 L1772.8 435.0 L1776.8 436.7 L1780.8 438.5 L1784.8 440.2 L1788.8 441.9 L1792.8 443.6 L1796.8 445.3 L1800.8 447.0 L1804.8 448.7 L1808.8 450.3 L1812.8 451.9 L1816.8 453.4 L1820.8 455.0 L1824.8 456.5 L1828.8 458.1 L1832.8 459.6 L1836.8 461.1 L1840.8 462.6 L1844.8 464.1 L1848.8 465.6 L1852.8 467.0 L1856.8 468.4 L1860.8 469.8 L1864.8 471.2 L1868.8 472.6 L1872.8 473.9 L1876.8 475.2 L1880.8 476.5 L1884.9 477.8 L1888.9 479.0 L1892.9 480.3 L1896.9 481.5 L1900.9 482.7 L1904.9 483.9 L1908.9 485.1 L1912.9 486.2 L1916.9 487.3 L1920.9 488.3 L1924.9 489.3 L1928.9 490.2 L1932.9 491.1 L1936.9 492.0 L1940.9 492.8 L1944.9 493.7 L1948.9 494.4 L1952.9 495.2 L1956.9 495.8 L1960.9 496.5" stroke="#000000" stroke-width="4.1"/>
<path d="M1172.4 136.8 L1176.4 141.4 L1180.4 146.1 L1184.4 150.8 L1188.4 155.4 L1192.4 160.3 L1196.4 164.9 L1200.4 169.3 L1204.4 173.4 L1208.4 176.9 L1212.4 179.7 L1216.4 182.0 L1220.4 183.7 L1224.4 185.1 L1228.4 186.1 L1232.4 186.8 L1236.4 187.2 L1240.4 187.5 L1244.4 188.0 L1248.4 188.6 L1252.5 189.4 L1256.5 190.4 L1260.5 191.5 L1264.5 192.6 L1268.5 193.8 L1272.5 194.9 L1276.5 196.0 L1280.5 197.1 L1284.5 198.3 L1288.5 199.4 L1292.5 200.5 L1296.5 201.7 L1300.5 202.9 L1304.5 204.1 L1308.5 205.3 L1312.5 206.5 L1316.5 207.8 L1320.5 209.1 L1324.5 210.4 L1328.5 211.7 L1332.5 213.0 L1336.5 214.3 L1340.5 215.6 L1344.5 216.9 L1348.5 218.2 L1352.5 219.5 L1356.5 220.8 L1360.5 222.2 L1364.5 223.5 L1368.5 224.8 L1372.5 226.0 L1376.5 227.3 L1380.5 228.5 L1384.5 229.6 L1388.5 230.7 L1392.5 231.7 L1396.5 232.6 L1400.5 233.4 L1404.5 234.1 L1408.5 234.6 L1412.6 235.1 L1416.6 235.5 L1420.6 235.9 L1424.6 236.2 L1428.6 236.5 L1432.6 236.8 L1436.6 237.2 L1440.6 237.7 L1444.6 238.3 L1448.6 239.1 L1452.6 240.0 L1456.6 241.1 L1460.6 242.4 L1464.6 243.8 L1468.6 245.3 L1472.6 246.8 L1476.6 248.3 L1480.6 249.9 L1484.6 251.4 L1488.6 252.9 L1492.6 254.3 L1496.6 255.8 L1500.6 257.3 L1504.6 258.9 L1508.6 260.7 L1512.6 262.6 L1516.6 264.7 L1520.6 266.9 L1524.6 269.2 L1528.6 271.5 L1532.6 273.9 L1536.6 276.3 L1540.6 278.8 L1544.6 281.2 L1548.6 283.7 L1552.6 286.1 L1556.6 288.6 L1560.6 291.1 L1564.6 293.6 L1568.7 296.2 L1572.7 298.7 L1576.7 301.2 L1580.7 303.8 L1584.7 306.4 L1588.7 309.2 L1592.7 312.0 L1596.7 314.9 L1600.7 317.8 L1604.7 320.9 L1608.7 324.0 L1612.7 327.2 L1616.7 330.4 L1620.7 333.7 L1624.7 337.0 L1628.7 340.2 L1632.7 343.5 L1636.7 346.8 L1640.7 350.0 L1644.7 353.3 L1648.7 356.4 L1652.7 359.5 L1656.7 362.5 L1660.7 365.5 L1664.7 368.4 L1668.7 371.3 L1672.7 374.1 L1676.7 376.9 L1680.7 379.6 L1684.7 382.3 L1688.7 384.9 L1692.7 387.5 L1696.7 390.1 L1700.7 392.7 L1704.7 395.3 L1708.7 397.9 L1712.7 400.5 L1716.7 403.0 L1720.7 405.4 L1724.8 407.7 L1728.8 410.0 L1732.8 412.1 L1736.8 414.1 L1740.8 416.1 L1744.8 418.1 L1748.8 420.0 L1752.8 421.9 L1756.8 423.8 L1760.8 425.7 L1764.8 427.6 L1768.8 429.5 L1772.8 431.3 L1776.8 433.1 L1780.8 434.9 L1784.8 436.6 L1788.8 438.4 L1792.8 440.1 L1796.8 441.7 L1800.8 443.4 L1804.8 445.0 L1808.8 446.6 L1812.8 448.1 L1816.8 449.6 L1820.8 451.2 L1824.8 452.7 L1828.8 454.2 L1832.8 455.7 L1836.8 457.2 L1840.8 458.7 L1844.8 460.2 L1848.8 461.7 L1852.8 463.2 L1856.8 464.7 L1860.8 466.2 L1864.8 467.6 L1868.8 469.0 L1872.8 470.4 L1876.8 471.8 L1880.8 473.1 L1884.9 474.4 L1888.9 475.7 L1892.9 477.0 L1896.9 478.3 L1900.9 479.5 L1904.9 480.7 L1908.9 481.8 L1912.9 482.9 L1916.9 484.0 L1920.9 484.9 L1924.9 485.9 L1928.9 486.8 L1932.9 487.6 L1936.9 488.5 L1940.9 489.3 L1944.9 490.1 L1948.9 490.9 L1952.9 491.6 L1956.9 492.4 L1960.9 493.1" stroke="#CC0099" stroke-width="2"/>
<path d="M1172.4 138.0 L1176.4 142.6 L1180.4 147.2 L1184.4 151.9 L1188.4 156.6 L1192.4 161.4 L1196.4 166.0 L1200.4 170.3 L1204.4 174.4 L1208.4 177.9 L1212.4 180.7 L1216.4 183.0 L1220.4 184.7 L1224.4 186.0 L1228.4 187.0 L1232.4 187.7 L1236.4 188.1 L1240.4 188.4 L1244.4 188.8 L1248.4 189.4 L1252.5 190.2 L1256.5 191.2 L1260.5 192.3 L1264.5 193.4 L1268.5 194.5 L1272.5 195.6 L1276.5 196.7 L1280.5 197.8 L1284.5 198.9 L1288.5 200.0 L1292.5 201.2 L1296.5 202.3 L1300.5 203.6 L1304.5 204.8 L1308.5 206.1 L1312.5 207.3 L1316.5 208.7 L1320.5 210.0 L1324.5 211.3 L1328.5 212.6 L1332.5 214.0 L1336.5 215.3 L1340.5 216.7 L1344.5 218.0 L1348.5 219.4 L1352.5 220.7 L1356.5 222.0 L1360.5 223.4 L1364.5 224.7 L1368.5 226.0 L1372.5 227.3 L1376.5 228.5 L1380.5 229.7 L1384.5 230.9 L1388.5 232.0 L1392.5 233.0 L1396.5 233.9 L1400.5 234.7 L1404.5 235.4 L1408.5 236.0 L1412.6 236.5 L1416.6 236.9 L1420.6 237.2 L1424.6 237.6 L1428.6 237.9 L1432.6 238.2 L1436.6 238.6 L1440.6 239.1 L1444.6 239.8 L1448.6 240.5 L1452.6 241.5 L1456.6 242.6 L1460.6 243.9 L1464.6 245.3 L1468.6 246.8 L1472.6 248.3 L1476.6 249.8 L1480.6 251.3 L1484.6 252.8 L1488.6 254.1 L1492.6 255.5 L1496.6 256.8 L1500.6 258.2 L1504.6 259.6 L1508.6 261.3 L1512.6 263.0 L1516.6 264.9 L1520.6 267.0 L1524.6 269.1 L1528.6 271.4 L1532.6 273.7 L1536.6 276.1 L1540.6 278.5 L1544.6 281.0 L1548.6 283.6 L1552.6 286.1 L1556.6 288.7 L1560.6 291.4 L1564.6 294.0 L1568.7 296.7 L1572.7 299.3 L1576.7 301.9 L1580.7 304.6 L1584.7 307.3 L1588.7 310.1 L1592.7 313.0 L1596.7 315.9 L1600.7 318.9 L1604.7 322.0 L1608.7 325.1 L1612.7 328.3 L1616.7 331.5 L1620.7 334.7 L1624.7 337.9 L1628.7 341.2 L1632.7 344.5 L1636.7 347.7 L1640.7 351.0 L1644.7 354.2 L1648.7 357.3 L1652.7 360.4 L1656.7 363.5 L1660.7 366.5 L1664.7 369.4 L1668.7 372.3 L1672.7 375.2 L1676.7 378.0 L1680.7 380.7 L1684.7 383.5 L1688.7 386.1 L1692.7 388.8 L1696.7 391.4 L1700.7 394.0 L1704.7 396.6 L1708.7 399.2 L1712.7 401.8 L1716.7 404.2 L1720.7 406.6 L1724.8 408.9 L1728.8 411.1 L1732.8 413.2 L1736.8 415.2 L1740.8 417.1 L1744.8 419.1 L1748.8 421.0 L1752.8 423.0 L1756.8 424.9 L1760.8 426.9 L1764.8 428.9 L1768.8 430.8 L1772.8 432.8 L1776.8 434.6 L1780.8 436.5 L1784.8 438.3 L1788.8 440.1 L1792.8 441.9 L1796.8 443.6 L1800.8 445.3 L1804.8 446.9 L1808.8 448.4 L1812.8 449.9 L1816.8 451.4 L1820.8 452.8 L1824.8 454.2 L1828.8 455.6 L1832.8 457.1 L1836.8 458.5 L1840.8 459.9 L1844.8 461.3 L1848.8 462.7 L1852.8 464.0 L1856.8 465.4 L1860.8 466.7 L1864.8 468.0 L1868.8 469.2 L1872.8 470.4 L1876.8 471.6 L1880.8 472.8 L1884.9 474.0 L1888.9 475.1 L1892.9 476.2 L1896.9 477.3 L1900.9 478.4 L1904.9 479.5 L1908.9 480.5 L1912.9 481.5 L1916.9 482.4 L1920.9 483.3 L1924.9 484.1 L1928.9 484.9 L1932.9 485.6 L1936.9 486.4 L1940.9 487.1 L1944.9 487.8 L1948.9 488.5 L1952.9 489.1 L1956.9 489.8 L1960.9 490.4" stroke="#0000FF"/>
<path d="M1172.4 134.2 L1176.4 138.9 L1180.4 143.6 L1184.4 148.3 L1188.4 153.0 L1192.4 157.9 L1196.4 162.6 L1200.4 166.9 L1204.4 171.1 L1208.4 174.7 L1212.4 177.5 L1216.4 179.9 L1220.4 181.6 L1224.4 183.0 L1228.4 184.1 L1232.4 184.8 L1236.4 185.3 L1240.4 185.6 L1244.4 186.1 L1248.4 186.8 L1252.5 187.7 L1256.5 188.7 L1260.5 189.8 L1264.5 191.0 L1268.5 192.1 L1272.5 193.3 L1276.5 194.5 L1280.5 195.6 L1284.5 196.8 L1288.5 198.0 L1292.5 199.2 L1296.5 200.4 L1300.5 201.7 L1304.5 202.9 L1308.5 204.2 L1312.5 205.5 L1316.5 206.9 L1320.5 208.2 L1324.5 209.6 L1328.5 211.0 L1332.5 212.4 L1336.5 213.7 L1340.5 215.1 L1344.5 216.4 L1348.5 217.7 L1352.5 219.0 L1356.5 220.3 L1360.5 221.5 L1364.5 222.8 L1368.5 224.0 L1372.5 225.2 L1376.5 226.3 L1380.5 227.4 L1384.5 228.4 L1388.5 229.4 L1392.5 230.3 L1396.5 231.0 L1400.5 231.7 L1404.5 232.3 L1408.5 232.8 L1412.6 233.2 L1416.6 233.5 L1420.6 233.7 L1424.6 233.9 L1428.6 234.1 L1432.6 234.4 L1436.6 234.7 L1440.6 235.0 L1444.6 235.6 L1448.6 236.2 L1452.6 237.0 L1456.6 238.0 L1460.6 239.2 L1464.6 240.5 L1468.6 241.8 L1472.6 243.3 L1476.6 244.7 L1480.6 246.2 L1484.6 247.6 L1488.6 249.0 L1492.6 250.4 L1496.6 251.8 L1500.6 253.2 L1504.6 254.8 L1508.6 256.5 L1512.6 258.4 L1516.6 260.3 L1520.6 262.5 L1524.6 264.7 L1528.6 267.0 L1532.6 269.4 L1536.6 271.8 L1540.6 274.3 L1544.6 276.8 L1548.6 279.4 L1552.6 282.0 L1556.6 284.7 L1560.6 287.4 L1564.6 290.1 L1568.7 292.8 L1572.7 295.5 L1576.7 298.2 L1580.7 300.9 L1584.7 303.7 L1588.7 306.5 L1592.7 309.4 L1596.7 312.3 L1600.7 315.3 L1604.7 318.4 L1608.7 321.5 L1612.7 324.7 L1616.7 327.9 L1620.7 331.1 L1624.7 334.3 L1628.7 337.6 L1632.7 340.8 L1636.7 344.1 L1640.7 347.3 L1644.7 350.6 L1648.7 353.8 L1652.7 357.0 L1656.7 360.1 L1660.7 363.2 L1664.7 366.2 L1668.7 369.3 L1672.7 372.2 L1676.7 375.2 L1680.7 378.1 L1684.7 380.9 L1688.7 383.7 L1692.7 386.5 L1696.7 389.2 L1700.7 391.9 L1704.7 394.6 L1708.7 397.3 L1712.7 399.9 L1716.7 402.5 L1720.7 405.0 L1724.8 407.4 L1728.8 409.6 L1732.8 411.8 L1736.8 413.9 L1740.8 415.9 L1744.8 418.0 L1748.8 420.0 L1752.8 422.1 L1756.8 424.1 L1760.8 426.2 L1764.8 428.3 L1768.8 430.4 L1772.8 432.4 L1776.8 434.4 L1780.8 436.4 L1784.8 438.4 L1788.8 440.3 L1792.8 442.2 L1796.8 444.0 L1800.8 445.8 L1804.8 447.6 L1808.8 449.3 L1812.8 451.0 L1816.8 452.7 L1820.8 454.3 L1824.8 456.0 L1828.8 457.6 L1832.8 459.2 L1836.8 460.8 L1840.8 462.4 L1844.8 464.0 L1848.8 465.6 L1852.8 467.1 L1856.8 468.6 L1860.8 470.1 L1864.8 471.6 L1868.8 473.0 L1872.8 474.4 L1876.8 475.8 L1880.8 477.1 L1884.9 478.4 L1888.9 479.6 L1892.9 480.9 L1896.9 482.1 L1900.9 483.3 L1904.9 484.4 L1908.9 485.5 L1912.9 486.5 L1916.9 487.5 L1920.9 488.4 L1924.9 489.3 L1928.9 490.1 L1932.9 490.9 L1936.9 491.7 L1940.9 492.4 L1944.9 493.2 L1948.9 493.9 L1952.9 494.6 L1956.9 495.2 L1960.9 495.9" stroke="#00B0F0"/>
<path d="M1172.4 130.6 L1176.4 135.2 L1180.4 139.9 L1184.4 144.5 L1188.4 149.2 L1192.4 154.0 L1196.4 158.7 L1200.4 163.0 L1204.4 167.2 L1208.4 170.7 L1212.4 173.4 L1216.4 175.8 L1220.4 177.5 L1224.4 178.8 L1228.4 179.8 L1232.4 180.5 L1236.4 181.0 L1240.4 181.4 L1244.4 181.9 L1248.4 182.6 L1252.5 183.5 L1256.5 184.6 L1260.5 185.7 L1264.5 186.8 L1268.5 187.9 L1272.5 189.0 L1276.5 190.0 L1280.5 191.0 L1284.5 192.0 L1288.5 193.0 L1292.5 194.1 L1296.5 195.2 L1300.5 196.4 L1304.5 197.7 L1308.5 198.9 L1312.5 200.2 L1316.5 201.6 L1320.5 202.9 L1324.5 204.2 L1328.5 205.6 L1332.5 206.9 L1336.5 208.2 L1340.5 209.6 L1344.5 210.9 L1348.5 212.2 L1352.5 213.5 L1356.5 214.8 L1360.5 216.0 L1364.5 217.3 L1368.5 218.5 L1372.5 219.7 L1376.5 220.9 L1380.5 222.0 L1384.5 223.0 L1388.5 224.0 L1392.5 224.9 L1396.5 225.7 L1400.5 226.4 L1404.5 227.0 L1408.5 227.5 L1412.6 228.0 L1416.6 228.3 L1420.6 228.6 L1424.6 228.8 L1428.6 229.0 L1432.6 229.3 L1436.6 229.6 L1440.6 230.0 L1444.6 230.5 L1448.6 231.2 L1452.6 232.1 L1456.6 233.1 L1460.6 234.3 L1464.6 235.6 L1468.6 237.0 L1472.6 238.4 L1476.6 239.9 L1480.6 241.4 L1484.6 242.8 L1488.6 244.3 L1492.6 245.7 L1496.6 247.1 L1500.6 248.6 L1504.6 250.2 L1508.6 252.0 L1512.6 253.9 L1516.6 255.9 L1520.6 258.0 L1524.6 260.3 L1528.6 262.6 L1532.6 265.0 L1536.6 267.5 L1540.6 270.0 L1544.6 272.5 L1548.6 275.1 L1552.6 277.7 L1556.6 280.4 L1560.6 283.1 L1564.6 285.7 L1568.7 288.4 L1572.7 291.1 L1576.7 293.8 L1580.7 296.5 L1584.7 299.3 L1588.7 302.1 L1592.7 305.0 L1596.7 308.0 L1600.7 311.0 L1604.7 314.1 L1608.7 317.2 L1612.7 320.4 L1616.7 323.6 L1620.7 326.9 L1624.7 330.1 L1628.7 333.4 L1632.7 336.7 L1636.7 340.0 L1640.7 343.3 L1644.7 346.6 L1648.7 349.8 L1652.7 353.0 L1656.7 356.2 L1660.7 359.3 L1664.7 362.5 L1668.7 365.5 L1672.7 368.6 L1676.7 371.6 L1680.7 374.5 L1684.7 377.4 L1688.7 380.3 L1692.7 383.1 L1696.7 385.9 L1700.7 388.6 L1704.7 391.4 L1708.7 394.2 L1712.7 396.8 L1716.7 399.5 L1720.7 402.0 L1724.8 404.5 L1728.8 406.8 L1732.8 409.0 L1736.8 411.2 L1740.8 413.3 L1744.8 415.4 L1748.8 417.5 L1752.8 419.6 L1756.8 421.6 L1760.8 423.7 L1764.8 425.8 L1768.8 427.9 L1772.8 429.9 L1776.8 431.9 L1780.8 433.9 L1784.8 435.9 L1788.8 437.8 L1792.8 439.7 L1796.8 441.5 L1800.8 443.3 L1804.8 445.1 L1808.8 446.8 L1812.8 448.5 L1816.8 450.2 L1820.8 451.8 L1824.8 453.4 L1828.8 455.0 L1832.8 456.6 L1836.8 458.2 L1840.8 459.8 L1844.8 461.4 L1848.8 463.0 L1852.8 464.5 L1856.8 466.0 L1860.8 467.5 L1864.8 468.9 L1868.8 470.3 L1872.8 471.7 L1876.8 473.0 L1880.8 474.4 L1884.9 475.7 L1888.9 476.9 L1892.9 478.2 L1896.9 479.4 L1900.9 480.6 L1904.9 481.8 L1908.9 482.9 L1912.9 484.0 L1916.9 485.0 L1920.9 486.0 L1924.9 486.9 L1928.9 487.7 L1932.9 488.6 L1936.9 489.4 L1940.9 490.2 L1944.9 491.0 L1948.9 491.7 L1952.9 492.5 L1956.9 493.2 L1960.9 493.9" stroke="#4F8130" stroke-width="3.6"/>
<path d="M1172.4 128.3 L1176.4 132.8 L1180.4 137.4 L1184.4 142.0 L1188.4 146.6 L1192.4 151.3 L1196.4 155.9 L1200.4 160.1 L1204.4 164.2 L1208.4 167.6 L1212.4 170.3 L1216.4 172.5 L1220.4 174.2 L1224.4 175.4 L1228.4 176.4 L1232.4 177.0 L1236.4 177.5 L1240.4 177.8 L1244.4 178.3 L1248.4 179.0 L1252.5 179.8 L1256.5 180.9 L1260.5 182.0 L1264.5 183.1 L1268.5 184.3 L1272.5 185.5 L1276.5 186.6 L1280.5 187.8 L1284.5 188.9 L1288.5 190.1 L1292.5 191.2 L1296.5 192.3 L1300.5 193.4 L1304.5 194.5 L1308.5 195.7 L1312.5 196.8 L1316.5 198.0 L1320.5 199.2 L1324.5 200.4 L1328.5 201.7 L1332.5 202.9 L1336.5 204.1 L1340.5 205.4 L1344.5 206.6 L1348.5 207.9 L1352.5 209.1 L1356.5 210.3 L1360.5 211.6 L1364.5 212.8 L1368.5 214.0 L1372.5 215.2 L1376.5 216.4 L1380.5 217.6 L1384.5 218.7 L1388.5 219.7 L1392.5 220.6 L1396.5 221.4 L1400.5 222.1 L1404.5 222.8 L1408.5 223.3 L1412.6 223.7 L1416.6 224.0 L1420.6 224.3 L1424.6 224.6 L1428.6 224.8 L1432.6 225.1 L1436.6 225.4 L1440.6 225.9 L1444.6 226.4 L1448.6 227.1 L1452.6 228.0 L1456.6 229.0 L1460.6 230.2 L1464.6 231.5 L1468.6 232.9 L1472.6 234.4 L1476.6 235.9 L1480.6 237.4 L1484.6 238.9 L1488.6 240.3 L1492.6 241.7 L1496.6 243.2 L1500.6 244.7 L1504.6 246.3 L1508.6 248.1 L1512.6 250.0 L1516.6 252.0 L1520.6 254.2 L1524.6 256.5 L1528.6 258.8 L1532.6 261.2 L1536.6 263.7 L1540.6 266.1 L1544.6 268.6 L1548.6 271.0 L1552.6 273.6 L1556.6 276.1 L1560.6 278.6 L1564.6 281.2 L1568.7 283.7 L1572.7 286.3 L1576.7 288.9 L1580.7 291.5 L1584.7 294.2 L1588.7 296.9 L1592.7 299.7 L1596.7 302.6 L1600.7 305.6 L1604.7 308.6 L1608.7 311.7 L1612.7 314.8 L1616.7 318.0 L1620.7 321.1 L1624.7 324.3 L1628.7 327.5 L1632.7 330.7 L1636.7 333.9 L1640.7 337.1 L1644.7 340.3 L1648.7 343.5 L1652.7 346.7 L1656.7 349.8 L1660.7 353.0 L1664.7 356.1 L1668.7 359.2 L1672.7 362.2 L1676.7 365.2 L1680.7 368.2 L1684.7 371.1 L1688.7 373.9 L1692.7 376.7 L1696.7 379.5 L1700.7 382.3 L1704.7 385.1 L1708.7 387.9 L1712.7 390.7 L1716.7 393.4 L1720.7 396.1 L1724.8 398.6 L1728.8 401.1 L1732.8 403.4 L1736.8 405.7 L1740.8 407.9 L1744.8 410.0 L1748.8 412.2 L1752.8 414.4 L1756.8 416.6 L1760.8 418.8 L1764.8 421.0 L1768.8 423.1 L1772.8 425.3 L1776.8 427.4 L1780.8 429.5 L1784.8 431.5 L1788.8 433.5 L1792.8 435.5 L1796.8 437.4 L1800.8 439.3 L1804.8 441.1 L1808.8 442.9 L1812.8 444.7 L1816.8 446.3 L1820.8 448.0 L1824.8 449.6 L1828.8 451.3 L1832.8 452.9 L1836.8 454.5 L1840.8 456.2 L1844.8 457.8 L1848.8 459.4 L1852.8 461.0 L1856.8 462.5 L1860.8 464.1 L1864.8 465.5 L1868.8 467.0 L1872.8 468.4 L1876.8 469.8 L1880.8 471.1 L1884.9 472.4 L1888.9 473.8 L1892.9 475.0 L1896.9 476.3 L1900.9 477.5 L1904.9 478.7 L1908.9 479.9 L1912.9 481.0 L1916.9 482.1 L1920.9 483.1 L1924.9 484.0 L1928.9 484.9 L1932.9 485.8 L1936.9 486.7 L1940.9 487.5 L1944.9 488.3 L1948.9 489.1 L1952.9 489.9 L1956.9 490.7 L1960.9 491.4" stroke="#00CC66"/>
<path d="M1172.4 123.8 L1176.4 128.5 L1180.4 133.3 L1184.4 138.0 L1188.4 142.8 L1192.4 147.7 L1196.4 152.4 L1200.4 156.9 L1204.4 161.1 L1208.4 164.7 L1212.4 167.5 L1216.4 170.0 L1220.4 171.8 L1224.4 173.2 L1228.4 174.3 L1232.4 175.1 L1236.4 175.6 L1240.4 176.0 L1244.4 176.5 L1248.4 177.2 L1252.5 178.1 L1256.5 179.2 L1260.5 180.4 L1264.5 181.6 L1268.5 182.8 L1272.5 184.1 L1276.5 185.3 L1280.5 186.5 L1284.5 187.7 L1288.5 188.8 L1292.5 190.0 L1296.5 191.1 L1300.5 192.2 L1304.5 193.3 L1308.5 194.4 L1312.5 195.5 L1316.5 196.7 L1320.5 197.9 L1324.5 199.0 L1328.5 200.3 L1332.5 201.5 L1336.5 202.7 L1340.5 203.9 L1344.5 205.1 L1348.5 206.3 L1352.5 207.6 L1356.5 208.8 L1360.5 210.0 L1364.5 211.2 L1368.5 212.4 L1372.5 213.6 L1376.5 214.7 L1380.5 215.8 L1384.5 216.9 L1388.5 217.9 L1392.5 218.8 L1396.5 219.6 L1400.5 220.2 L1404.5 220.8 L1408.5 221.3 L1412.6 221.7 L1416.6 222.0 L1420.6 222.3 L1424.6 222.5 L1428.6 222.7 L1432.6 223.0 L1436.6 223.3 L1440.6 223.7 L1444.6 224.2 L1448.6 224.9 L1452.6 225.7 L1456.6 226.7 L1460.6 227.8 L1464.6 229.1 L1468.6 230.5 L1472.6 231.9 L1476.6 233.4 L1480.6 234.9 L1484.6 236.4 L1488.6 238.0 L1492.6 239.5 L1496.6 241.1 L1500.6 242.7 L1504.6 244.5 L1508.6 246.3 L1512.6 248.4 L1516.6 250.5 L1520.6 252.8 L1524.6 255.2 L1528.6 257.7 L1532.6 260.1 L1536.6 262.7 L1540.6 265.2 L1544.6 267.7 L1548.6 270.3 L1552.6 272.8 L1556.6 275.4 L1560.6 278.0 L1564.6 280.6 L1568.7 283.2 L1572.7 285.9 L1576.7 288.5 L1580.7 291.2 L1584.7 293.9 L1588.7 296.7 L1592.7 299.6 L1596.7 302.6 L1600.7 305.7 L1604.7 308.9 L1608.7 312.1 L1612.7 315.3 L1616.7 318.7 L1620.7 322.0 L1624.7 325.3 L1628.7 328.7 L1632.7 332.1 L1636.7 335.4 L1640.7 338.8 L1644.7 342.1 L1648.7 345.4 L1652.7 348.7 L1656.7 351.9 L1660.7 355.1 L1664.7 358.3 L1668.7 361.4 L1672.7 364.4 L1676.7 367.5 L1680.7 370.4 L1684.7 373.4 L1688.7 376.3 L1692.7 379.1 L1696.7 381.9 L1700.7 384.8 L1704.7 387.6 L1708.7 390.5 L1712.7 393.3 L1716.7 396.0 L1720.7 398.7 L1724.8 401.2 L1728.8 403.7 L1732.8 406.0 L1736.8 408.3 L1740.8 410.5 L1744.8 412.7 L1748.8 414.9 L1752.8 417.1 L1756.8 419.4 L1760.8 421.6 L1764.8 423.8 L1768.8 426.0 L1772.8 428.1 L1776.8 430.3 L1780.8 432.4 L1784.8 434.4 L1788.8 436.5 L1792.8 438.5 L1796.8 440.4 L1800.8 442.3 L1804.8 444.2 L1808.8 446.0 L1812.8 447.7 L1816.8 449.4 L1820.8 451.1 L1824.8 452.7 L1828.8 454.4 L1832.8 456.0 L1836.8 457.7 L1840.8 459.3 L1844.8 460.9 L1848.8 462.6 L1852.8 464.1 L1856.8 465.7 L1860.8 467.2 L1864.8 468.7 L1868.8 470.2 L1872.8 471.6 L1876.8 473.0 L1880.8 474.4 L1884.9 475.7 L1888.9 477.0 L1892.9 478.3 L1896.9 479.6 L1900.9 480.9 L1904.9 482.1 L1908.9 483.2 L1912.9 484.4 L1916.9 485.4 L1920.9 486.5 L1924.9 487.4 L1928.9 488.3 L1932.9 489.2 L1936.9 490.1 L1940.9 490.9 L1944.9 491.8 L1948.9 492.6 L1952.9 493.4 L1956.9 494.1 L1960.9 494.9" stroke="#CC9900"/>
</g>
<g stroke="#000" stroke-width="3.7" fill="none">
<path d="M1172.2 40.5 V570.8"/>
<path d="M1165.0 563.3 H1961.0"/>
<path d="M1165 42.0 H1172.2"/>
<path d="M1165 116.5 H1172.2"/>
<path d="M1165 190.9 H1172.2"/>
<path d="M1165 265.4 H1172.2"/>
<path d="M1165 339.9 H1172.2"/>
<path d="M1165 414.4 H1172.2"/>
<path d="M1165 488.8 H1172.2"/>
<path d="M1347.5 563.3 V570.8"/>
<path d="M1522.7 563.3 V570.8"/>
<path d="M1698.0 563.3 V570.8"/>
<path d="M1873.3 563.3 V570.8"/>
</g>
<g font-size="23.2" text-anchor="end">
<text x="1153" y="48.9">0.35</text>
<text x="1153" y="123.4">0.3</text>
<text x="1153" y="197.8">0.25</text>
<text x="1153" y="272.3">0.2</text>
<text x="1153" y="346.8">0.15</text>
<text x="1153" y="421.2">0.1</text>
<text x="1153" y="495.7">0.05</text>
<text x="1153" y="570.2">0</text>
</g>
<g font-size="23.2" text-anchor="middle">
<text x="1172.2" y="598">350</text>
<text x="1347.5" y="598">450</text>
<text x="1522.7" y="598">550</text>
<text x="1698.0" y="598">650</text>
<text x="1873.3" y="598">750</text>
</g>
<text x="1566.3" y="635.8" font-size="30.4" text-anchor="middle" font-weight="bold" textLength="246.7" lengthAdjust="spacingAndGlyphs">Wavelength (nm)</text>
<text transform="translate(1097 303) rotate(-90)" font-size="30.8" font-weight="bold" text-anchor="middle">Absorbance (a.u.)</text>
<text x="1564.7" y="197.6" font-size="58" text-anchor="middle" textLength="166.7" lengthAdjust="spacingAndGlyphs">24 hrs</text>
<text x="1404.4" y="305.2" font-size="57.5" text-anchor="middle" textLength="146.2" lengthAdjust="spacingAndGlyphs">0 min</text>
<g fill="url(#g)" stroke="#152A58" stroke-width="3.8">
<circle cx="598.2" cy="1601.1" r="20.1"/>
<circle cx="687.4" cy="1623.4" r="20.1"/>
<circle cx="511.4" cy="1633.8" r="20.1"/>
<circle cx="485.4" cy="1685.8" r="20.1"/>
<circle cx="578.9" cy="1681.9" r="20.1"/>
<circle cx="677.6" cy="1683.8" r="20.1"/>
<circle cx="754.0" cy="1687.3" r="20.1"/>
<circle cx="622.4" cy="1706.8" r="20.1"/>
<circle cx="531.7" cy="1738.1" r="20.1"/>
<circle cx="636.7" cy="1764.5" r="20.1"/>
<circle cx="738.4" cy="1760.2" r="20.1"/>
<circle cx="587.8" cy="1803.7" r="20.1"/>
<circle cx="515.9" cy="1817.8" r="20.1"/>
<circle cx="697.5" cy="1813.7" r="20.1"/>
<circle cx="656.8" cy="1837.3" r="20.1"/>
<circle cx="507.9" cy="1879.9" r="20.1"/>
<circle cx="569.0" cy="1891.6" r="20.1"/>
<circle cx="646.0" cy="1911.7" r="20.1"/>
<circle cx="740.2" cy="1895.7" r="20.1"/>
</g>
<g fill="url(#g)" stroke="#152A58" stroke-width="4.1">
<circle cx="1318.3" cy="1497.1" r="18.0"/>
<circle cx="1335.8" cy="1442.0" r="18.0"/>
<circle cx="1310.8" cy="1466.3" r="18.0"/>
<circle cx="1346.0" cy="1473.5" r="18.0"/>
<circle cx="1244.4" cy="1483.1" r="18.0"/>
<circle cx="1283.1" cy="1487.2" r="18.0"/>
<circle cx="1357.3" cy="1502.7" r="18.0"/>
<circle cx="1153.6" cy="1508.6" r="18.0"/>
<circle cx="1190.8" cy="1513.5" r="18.0"/>
<circle cx="1226.0" cy="1512.3" r="18.0"/>
<circle cx="1260.8" cy="1515.0" r="18.0"/>
<circle cx="1295.6" cy="1516.7" r="18.0"/>
<circle cx="1329.2" cy="1525.6" r="18.0"/>
<circle cx="1166.1" cy="1540.9" r="18.0"/>
<circle cx="1204.2" cy="1542.7" r="18.0"/>
<circle cx="1241.2" cy="1543.6" r="18.0"/>
<circle cx="1277.8" cy="1543.6" r="18.0"/>
<circle cx="1184.0" cy="1570.4" r="18.0"/>
<circle cx="1222.0" cy="1571.2" r="18.0"/>
<circle cx="1258.1" cy="1572.1" r="18.0"/>
<circle cx="1293.3" cy="1572.1" r="18.0"/>
<circle cx="1329.2" cy="1571.2" r="18.0"/>
<circle cx="1166.1" cy="1598.9" r="18.0"/>
<circle cx="1202.7" cy="1598.9" r="18.0"/>
<circle cx="1239.9" cy="1599.8" r="18.0"/>
<circle cx="1276.0" cy="1601.6" r="18.0"/>
<circle cx="1311.7" cy="1601.6" r="18.0"/>
<circle cx="1347.5" cy="1599.8" r="18.0"/>
<circle cx="1186.3" cy="1629.3" r="18.0"/>
<circle cx="1222.9" cy="1627.5" r="18.0"/>
<circle cx="1259.0" cy="1632.0" r="18.0"/>
<circle cx="1295.3" cy="1631.1" r="18.0"/>
<circle cx="1332.3" cy="1629.3" r="18.0"/>
<circle cx="1165.8" cy="1657.0" r="18.0"/>
<circle cx="1203.3" cy="1657.9" r="18.0"/>
<circle cx="1238.5" cy="1657.9" r="18.0"/>
<circle cx="1278.7" cy="1661.5" r="18.0"/>
<circle cx="1316.5" cy="1660.6" r="18.0"/>
<circle cx="1352.8" cy="1657.0" r="18.0"/>
<circle cx="1148.2" cy="1684.1" r="18.0"/>
<circle cx="1184.0" cy="1684.1" r="18.0"/>
<circle cx="1219.7" cy="1684.1" r="18.0"/>
<circle cx="1299.8" cy="1688.3" r="18.0"/>
<circle cx="1336.2" cy="1689.2" r="18.0"/>
<circle cx="1372.8" cy="1684.1" r="18.0"/>
<circle cx="1321.0" cy="1716.2" r="18.0"/>
<circle cx="1357.3" cy="1715.4" r="18.0"/>
</g>
<g fill="url(#g)" stroke="#152A58" stroke-width="3.9">
<ellipse cx="1128.8" cy="1893.4" rx="15.7" ry="17.3"/>
<ellipse cx="1163.8" cy="1882.3" rx="15.7" ry="17.3"/>
<ellipse cx="1189.8" cy="1906.9" rx="15.7" ry="17.3"/>
<ellipse cx="1156.5" cy="1917.8" rx="15.7" ry="17.3"/>
<ellipse cx="1258.1" cy="1852.3" rx="15.7" ry="17.3"/>
<ellipse cx="1291.8" cy="1853.7" rx="15.7" ry="17.3"/>
<ellipse cx="1323.1" cy="1916.5" rx="15.7" ry="17.3"/>
<ellipse cx="1297.6" cy="1943.0" rx="15.7" ry="17.3"/>
<ellipse cx="1327.7" cy="1953.0" rx="15.7" ry="17.3"/>
<ellipse cx="1193.8" cy="1963.0" rx="15.7" ry="17.3"/>
<ellipse cx="1178.3" cy="1994.5" rx="15.7" ry="17.3"/>
<ellipse cx="1212.9" cy="1992.7" rx="15.7" ry="17.3"/>
<ellipse cx="1165.6" cy="2028.6" rx="15.7" ry="17.3"/>
<ellipse cx="1198.4" cy="2025.5" rx="15.7" ry="17.3"/>
<ellipse cx="1185.3" cy="2058.6" rx="15.7" ry="17.3"/>
<ellipse cx="1282.1" cy="2009.4" rx="15.7" ry="17.3"/>
<ellipse cx="1315.8" cy="2015.8" rx="15.7" ry="17.3"/>
<ellipse cx="1260.3" cy="2036.8" rx="15.7" ry="17.3"/>
<ellipse cx="1293.6" cy="2044.4" rx="15.7" ry="17.3"/>
<ellipse cx="1244.8" cy="2091.4" rx="15.7" ry="17.3"/>
<ellipse cx="1219.7" cy="2117.4" rx="15.7" ry="17.3"/>
<ellipse cx="1249.9" cy="2127.8" rx="15.7" ry="17.3"/>
<ellipse cx="1325.9" cy="2099.6" rx="15.7" ry="17.3"/>
<ellipse cx="1359.6" cy="2100.5" rx="15.7" ry="17.3"/>
</g>
<path d="M826.4 1688.7 L1051.3 1618.8 L1055.1 1630.7 L1085.7 1601.3 L1043.8 1594.4 L1047.5 1606.4 L822.6 1676.3 Z" fill="#000"/>
<path d="M822.6 1845.7 L1047.9 1915.6 L1044.2 1927.6 L1086.1 1920.7 L1055.4 1891.3 L1051.7 1903.2 L826.4 1833.3 Z" fill="#000"/>
<text x="937.5" y="1616" font-size="62" text-anchor="middle" textLength="27" lengthAdjust="spacingAndGlyphs">a</text>
<text x="933.6" y="1943" font-size="64" text-anchor="middle" textLength="35" lengthAdjust="spacingAndGlyphs">b</text>
</svg>
</body></html>
